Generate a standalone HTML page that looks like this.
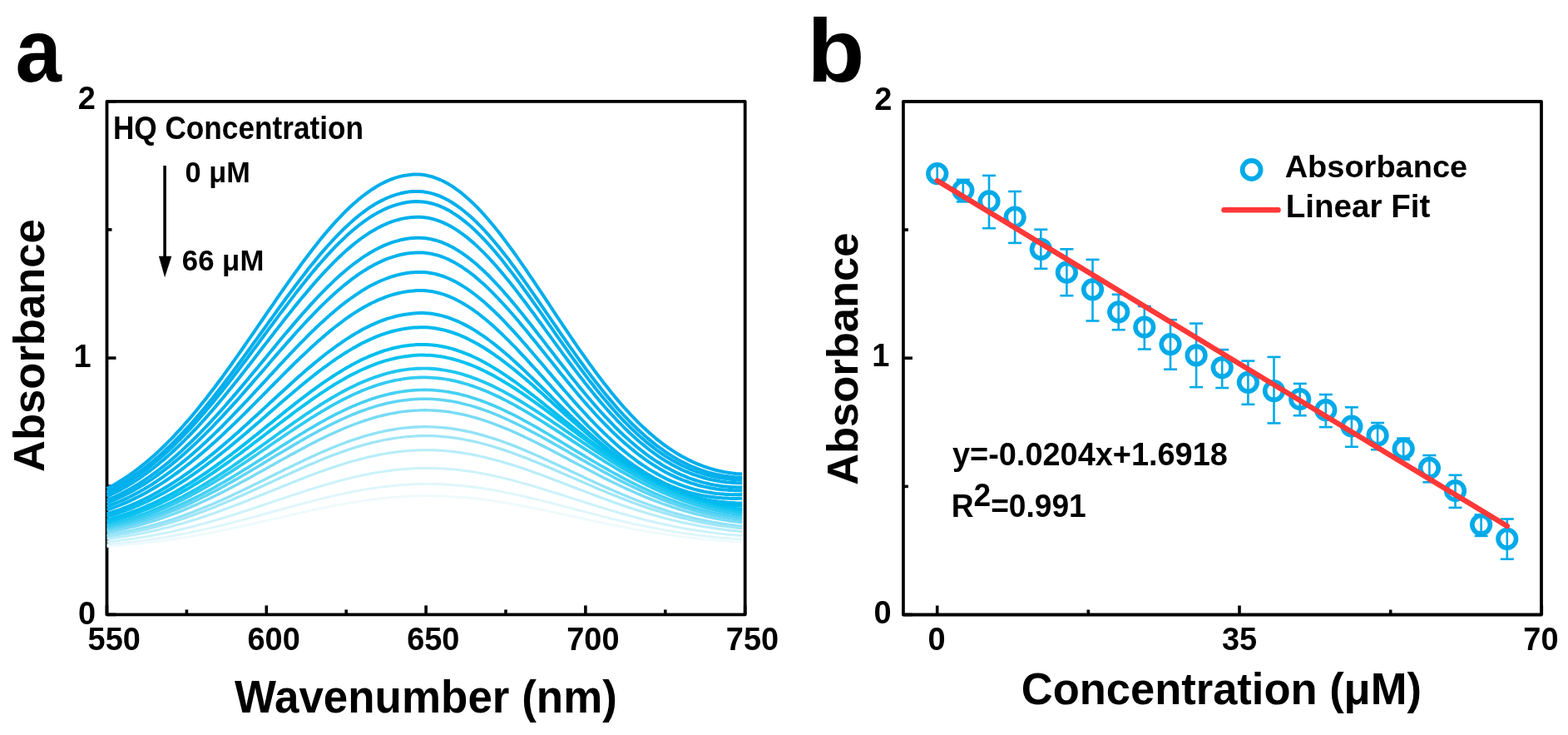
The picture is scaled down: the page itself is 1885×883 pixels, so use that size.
<!DOCTYPE html>
<html><head><meta charset="utf-8"><title>Figure</title>
<style>html,body{margin:0;padding:0;background:#fff;width:1885px;height:883px;overflow:hidden}
svg{display:block} text{font-family:'Liberation Sans',Arial,Helvetica,sans-serif;font-weight:bold;fill:#000}</style></head>
<body>
<svg width="1885" height="883" viewBox="0 0 1885 883">
<rect width="1885" height="883" fill="#fff"/>
<!-- Panel a -->
<text transform="translate(18.58,97.7) scale(0.9189,1)" font-size="108.43">a</text><text transform="translate(93.75,131.0) scale(0.965,1)" font-size="39.3">2</text><text transform="translate(88.54,441.1) scale(0.965,1)" font-size="39.3">1</text><text transform="translate(94.05,749.65) scale(0.965,1)" font-size="39.3">0</text><text transform="translate(105.61,780.95) scale(0.965,1)" font-size="39.3">550</text><text transform="translate(297.53,780.95) scale(0.965,1)" font-size="39.3">600</text><text transform="translate(489.18,780.95) scale(0.965,1)" font-size="39.3">650</text><text transform="translate(681.21,780.95) scale(0.965,1)" font-size="39.3">700</text><text transform="translate(872.81,780.95) scale(0.965,1)" font-size="39.3">750</text><text transform="translate(281.93,856.3) scale(0.95,1)" font-size="55.74">Wavenumber (nm)</text><text transform="translate(53.11,567.04) rotate(-90) scale(1.0228,1)" font-size="51.41">Absorbance</text>
<g stroke="#000" stroke-width="3.8" fill="none" stroke-linejoin="round">
<rect x="128.5" y="121.8" width="767.2" height="616.6"/>
</g>
<g stroke="#000" stroke-width="3.6" stroke-linecap="butt">
<line x1="128.5" y1="738.4" x2="128.5" y2="727.4"/>
<line x1="320.3" y1="738.4" x2="320.3" y2="727.4"/>
<line x1="512.1" y1="738.4" x2="512.1" y2="727.4"/>
<line x1="703.9" y1="738.4" x2="703.9" y2="727.4"/>
<line x1="895.7" y1="738.4" x2="895.7" y2="727.4"/>
<line x1="224.4" y1="738.4" x2="224.4" y2="732.4"/>
<line x1="416.2" y1="738.4" x2="416.2" y2="732.4"/>
<line x1="608.0" y1="738.4" x2="608.0" y2="732.4"/>
<line x1="799.8" y1="738.4" x2="799.8" y2="732.4"/>
<line x1="128.5" y1="738.4" x2="139.5" y2="738.4"/>
<line x1="128.5" y1="430.1" x2="139.5" y2="430.1"/>
<line x1="128.5" y1="121.8" x2="139.5" y2="121.8"/>
<line x1="128.5" y1="584.2" x2="134.5" y2="584.2"/>
<line x1="128.5" y1="275.9" x2="134.5" y2="275.9"/>
</g>
<g>
<polyline points="128.5,587.0 132.3,585.0 136.2,582.9 140.0,580.7 143.9,578.3 147.7,575.9 151.5,573.4 155.4,570.8 159.2,568.1 163.0,565.3 166.9,562.4 170.7,559.4 174.6,556.3 178.4,553.1 182.2,549.8 186.1,546.4 189.9,542.9 193.7,539.3 197.6,535.5 201.4,531.7 205.3,527.8 209.1,523.8 212.9,519.7 216.8,515.6 220.6,511.3 224.4,506.9 228.3,502.5 232.1,497.9 236.0,493.3 239.8,488.6 243.6,483.8 247.5,479.0 251.3,474.0 255.2,469.0 259.0,464.0 262.8,458.8 266.7,453.7 270.5,448.4 274.3,443.1 278.2,437.8 282.0,432.4 285.9,426.9 289.7,421.5 293.5,416.0 297.4,410.4 301.2,404.9 305.0,399.3 308.9,393.7 312.7,388.1 316.6,382.5 320.4,376.9 324.2,371.3 328.1,365.8 331.9,360.2 335.7,354.7 339.6,349.1 343.4,343.7 347.3,338.2 351.1,332.8 354.9,327.5 358.8,322.2 362.6,316.9 366.5,311.8 370.3,306.7 374.1,301.7 378.0,296.7 381.8,291.9 385.6,287.1 389.5,282.4 393.3,277.9 397.2,273.4 401.0,269.1 404.8,264.9 408.7,260.8 412.5,256.8 416.3,253.0 420.2,249.3 424.0,245.8 427.9,242.4 431.7,239.1 435.5,236.0 439.4,233.1 443.2,230.3 447.0,227.7 450.9,225.2 454.7,222.9 458.6,220.8 462.4,218.9 466.2,217.1 470.1,215.5 473.9,214.1 477.8,212.9 481.6,211.9 485.4,211.0 489.3,210.4 493.1,209.9 496.9,209.6 500.8,209.5 504.6,209.6 508.5,210.0 512.3,210.6 516.1,211.5 520.0,212.5 523.8,213.8 527.6,215.3 531.5,217.0 535.3,218.9 539.2,221.1 543.0,223.4 546.8,226.0 550.7,228.8 554.5,231.7 558.3,234.9 562.2,238.2 566.0,241.7 569.9,245.4 573.7,249.2 577.5,253.2 581.4,257.4 585.2,261.7 589.1,266.2 592.9,270.8 596.7,275.5 600.6,280.3 604.4,285.3 608.2,290.4 612.1,295.6 615.9,300.8 619.8,306.2 623.6,311.6 627.4,317.1 631.3,322.6 635.1,328.3 638.9,333.9 642.8,339.6 646.6,345.4 650.5,351.1 654.3,356.9 658.1,362.7 662.0,368.5 665.8,374.3 669.6,380.1 673.5,385.9 677.3,391.6 681.2,397.3 685.0,403.0 688.8,408.7 692.7,414.3 696.5,419.8 700.4,425.3 704.2,430.7 708.0,436.1 711.9,441.4 715.7,446.6 719.5,451.7 723.4,456.8 727.2,461.7 731.1,466.6 734.9,471.4 738.7,476.1 742.6,480.6 746.4,485.1 750.2,489.5 754.1,493.7 757.9,497.8 761.8,501.9 765.6,505.8 769.4,509.6 773.3,513.2 777.1,516.8 780.9,520.2 784.8,523.6 788.6,526.8 792.5,529.8 796.3,532.8 800.1,535.6 804.0,538.3 807.8,540.9 811.7,543.4 815.5,545.7 819.3,548.0 823.2,550.1 827.0,552.1 830.8,553.9 834.7,555.7 838.5,557.4 842.4,558.9 846.2,560.3 850.0,561.6 853.9,562.9 857.7,564.0 861.5,565.0 865.4,565.9 869.2,566.7 873.1,567.4 876.9,568.0 880.7,568.5 884.6,568.9 888.4,569.2 892.2,569.5" fill="none" stroke="rgb(0, 173, 235)" stroke-width="4.00" stroke-linejoin="round"/>
<polyline points="128.5,590.7 132.3,588.8 136.2,586.8 140.0,584.7 143.9,582.6 147.7,580.3 151.5,577.9 155.4,575.4 159.2,572.9 163.0,570.2 166.9,567.5 170.7,564.6 174.6,561.7 178.4,558.6 182.2,555.5 186.1,552.2 189.9,548.9 193.7,545.5 197.6,541.9 201.4,538.3 205.3,534.6 209.1,530.8 212.9,526.9 216.8,522.9 220.6,518.9 224.4,514.7 228.3,510.5 232.1,506.2 236.0,501.8 239.8,497.3 243.6,492.7 247.5,488.1 251.3,483.4 255.2,478.7 259.0,473.8 262.8,469.0 266.7,464.0 270.5,459.0 274.3,454.0 278.2,448.9 282.0,443.7 285.9,438.5 289.7,433.3 293.5,428.1 297.4,422.8 301.2,417.5 305.0,412.2 308.9,406.9 312.7,401.5 316.6,396.2 320.4,390.8 324.2,385.5 328.1,380.1 331.9,374.8 335.7,369.5 339.6,364.3 343.4,359.0 347.3,353.8 351.1,348.7 354.9,343.5 358.8,338.5 362.6,333.5 366.5,328.5 370.3,323.6 374.1,318.8 378.0,314.1 381.8,309.4 385.6,304.9 389.5,300.4 393.3,296.0 397.2,291.8 401.0,287.6 404.8,283.6 408.7,279.6 412.5,275.8 416.3,272.2 420.2,268.6 424.0,265.2 427.9,261.9 431.7,258.8 435.5,255.8 439.4,252.9 443.2,250.2 447.0,247.7 450.9,245.3 454.7,243.1 458.6,241.1 462.4,239.2 466.2,237.5 470.1,235.9 473.9,234.6 477.8,233.4 481.6,232.3 485.4,231.5 489.3,230.8 493.1,230.3 496.9,230.0 500.8,229.9 504.6,230.0 508.5,230.3 512.3,230.9 516.1,231.6 520.0,232.6 523.8,233.8 527.6,235.2 531.5,236.9 535.3,238.7 539.2,240.8 543.0,243.0 546.8,245.5 550.7,248.1 554.5,251.0 558.3,254.0 562.2,257.2 566.0,260.6 569.9,264.1 573.7,267.8 577.5,271.7 581.4,275.7 585.2,279.9 589.1,284.2 592.9,288.7 596.7,293.2 600.6,297.9 604.4,302.7 608.2,307.6 612.1,312.6 615.9,317.7 619.8,322.8 623.6,328.1 627.4,333.4 631.3,338.8 635.1,344.2 638.9,349.7 642.8,355.2 646.6,360.7 650.5,366.3 654.3,371.9 658.1,377.5 662.0,383.1 665.8,388.6 669.6,394.2 673.5,399.8 677.3,405.3 681.2,410.8 685.0,416.3 688.8,421.7 692.7,427.1 696.5,432.5 700.4,437.8 704.2,443.0 708.0,448.1 711.9,453.2 715.7,458.2 719.5,463.1 723.4,468.0 727.2,472.7 731.1,477.4 734.9,481.9 738.7,486.4 742.6,490.8 746.4,495.0 750.2,499.2 754.1,503.2 757.9,507.2 761.8,511.0 765.6,514.7 769.4,518.3 773.3,521.8 777.1,525.2 780.9,528.4 784.8,531.6 788.6,534.6 792.5,537.5 796.3,540.2 800.1,542.9 804.0,545.5 807.8,547.9 811.7,550.2 815.5,552.4 819.3,554.5 823.2,556.4 827.0,558.3 830.8,560.0 834.7,561.6 838.5,563.1 842.4,564.6 846.2,565.9 850.0,567.1 853.9,568.1 857.7,569.1 861.5,570.0 865.4,570.8 869.2,571.5 873.1,572.1 876.9,572.6 880.7,573.0 884.6,573.4 888.4,573.6 892.2,573.8" fill="none" stroke="rgb(0, 174, 235)" stroke-width="4.00" stroke-linejoin="round"/>
<polyline points="128.5,593.0 132.3,591.1 136.2,589.2 140.0,587.2 143.9,585.1 147.7,582.9 151.5,580.6 155.4,578.2 159.2,575.7 163.0,573.1 166.9,570.5 170.7,567.7 174.6,564.9 178.4,561.9 182.2,558.9 186.1,555.7 189.9,552.5 193.7,549.2 197.6,545.8 201.4,542.3 205.3,538.7 209.1,535.0 212.9,531.2 216.8,527.3 220.6,523.4 224.4,519.4 228.3,515.3 232.1,511.1 236.0,506.8 239.8,502.5 243.6,498.1 247.5,493.6 251.3,489.0 255.2,484.4 259.0,479.7 262.8,475.0 266.7,470.2 270.5,465.3 274.3,460.4 278.2,455.5 282.0,450.5 285.9,445.5 289.7,440.4 293.5,435.3 297.4,430.2 301.2,425.0 305.0,419.9 308.9,414.7 312.7,409.5 316.6,404.3 320.4,399.1 324.2,393.9 328.1,388.7 331.9,383.5 335.7,378.4 339.6,373.3 343.4,368.2 347.3,363.1 351.1,358.1 354.9,353.1 358.8,348.2 362.6,343.3 366.5,338.5 370.3,333.7 374.1,329.1 378.0,324.4 381.8,319.9 385.6,315.5 389.5,311.1 393.3,306.9 397.2,302.7 401.0,298.7 404.8,294.7 408.7,290.9 412.5,287.2 416.3,283.6 420.2,280.1 424.0,276.8 427.9,273.6 431.7,270.5 435.5,267.6 439.4,264.8 443.2,262.2 447.0,259.7 450.9,257.4 454.7,255.2 458.6,253.2 462.4,251.3 466.2,249.7 470.1,248.1 473.9,246.8 477.8,245.6 481.6,244.6 485.4,243.7 489.3,243.1 493.1,242.6 496.9,242.2 500.8,242.1 504.6,242.2 508.5,242.5 512.3,243.0 516.1,243.7 520.0,244.7 523.8,245.8 527.6,247.2 531.5,248.8 535.3,250.6 539.2,252.6 543.0,254.8 546.8,257.3 550.7,259.9 554.5,262.7 558.3,265.6 562.2,268.8 566.0,272.1 569.9,275.6 573.7,279.3 577.5,283.1 581.4,287.0 585.2,291.2 589.1,295.4 592.9,299.8 596.7,304.3 600.6,308.9 604.4,313.6 608.2,318.4 612.1,323.4 615.9,328.4 619.8,333.5 623.6,338.6 627.4,343.9 631.3,349.2 635.1,354.5 638.9,359.9 642.8,365.3 646.6,370.7 650.5,376.2 654.3,381.7 658.1,387.2 662.0,392.7 665.8,398.2 669.6,403.6 673.5,409.1 677.3,414.5 681.2,419.9 685.0,425.3 688.8,430.6 692.7,435.9 696.5,441.1 700.4,446.3 704.2,451.4 708.0,456.4 711.9,461.3 715.7,466.2 719.5,471.0 723.4,475.7 727.2,480.3 731.1,484.9 734.9,489.3 738.7,493.6 742.6,497.9 746.4,502.0 750.2,506.0 754.1,509.9 757.9,513.7 761.8,517.4 765.6,521.0 769.4,524.5 773.3,527.8 777.1,531.1 780.9,534.2 784.8,537.2 788.6,540.1 792.5,542.8 796.3,545.5 800.1,548.0 804.0,550.4 807.8,552.7 811.7,554.9 815.5,557.0 819.3,559.0 823.2,560.8 827.0,562.5 830.8,564.2 834.7,565.7 838.5,567.1 842.4,568.4 846.2,569.6 850.0,570.7 853.9,571.6 857.7,572.5 861.5,573.3 865.4,574.0 869.2,574.6 873.1,575.1 876.9,575.5 880.7,575.9 884.6,576.1 888.4,576.3 892.2,576.4" fill="none" stroke="rgb(0, 175, 236)" stroke-width="4.00" stroke-linejoin="round"/>
<polyline points="128.5,596.4 132.3,594.7 136.2,592.8 140.0,590.9 143.9,588.9 147.7,586.8 151.5,584.7 155.4,582.4 159.2,580.0 163.0,577.6 166.9,575.1 170.7,572.4 174.6,569.7 178.4,566.9 182.2,564.0 186.1,561.0 189.9,558.0 193.7,554.8 197.6,551.6 201.4,548.2 205.3,544.8 209.1,541.3 212.9,537.7 216.8,534.0 220.6,530.3 224.4,526.4 228.3,522.5 232.1,518.5 236.0,514.5 239.8,510.3 243.6,506.1 247.5,501.9 251.3,497.5 255.2,493.1 259.0,488.6 262.8,484.1 266.7,479.5 270.5,474.9 274.3,470.2 278.2,465.5 282.0,460.7 285.9,455.9 289.7,451.1 293.5,446.2 297.4,441.3 301.2,436.4 305.0,431.5 308.9,426.5 312.7,421.6 316.6,416.6 320.4,411.6 324.2,406.7 328.1,401.7 331.9,396.8 335.7,391.9 339.6,387.0 343.4,382.1 347.3,377.2 351.1,372.4 354.9,367.6 358.8,362.9 362.6,358.3 366.5,353.6 370.3,349.1 374.1,344.6 378.0,340.2 381.8,335.8 385.6,331.6 389.5,327.4 393.3,323.3 397.2,319.3 401.0,315.4 404.8,311.6 408.7,308.0 412.5,304.4 416.3,300.9 420.2,297.6 424.0,294.4 427.9,291.3 431.7,288.4 435.5,285.5 439.4,282.9 443.2,280.3 447.0,277.9 450.9,275.7 454.7,273.6 458.6,271.6 462.4,269.8 466.2,268.2 470.1,266.7 473.9,265.4 477.8,264.2 481.6,263.2 485.4,262.4 489.3,261.7 493.1,261.2 496.9,260.9 500.8,260.7 504.6,260.7 508.5,261.0 512.3,261.5 516.1,262.1 520.0,263.0 523.8,264.1 527.6,265.4 531.5,266.9 535.3,268.6 539.2,270.5 543.0,272.6 546.8,274.9 550.7,277.4 554.5,280.1 558.3,282.9 562.2,285.9 566.0,289.1 569.9,292.4 573.7,295.9 577.5,299.6 581.4,303.4 585.2,307.3 589.1,311.4 592.9,315.6 596.7,319.9 600.6,324.4 604.4,328.9 608.2,333.5 612.1,338.3 615.9,343.1 619.8,348.0 623.6,352.9 627.4,358.0 631.3,363.0 635.1,368.2 638.9,373.3 642.8,378.5 646.6,383.8 650.5,389.0 654.3,394.3 658.1,399.6 662.0,404.9 665.8,410.1 669.6,415.4 673.5,420.6 677.3,425.9 681.2,431.0 685.0,436.2 688.8,441.3 692.7,446.4 696.5,451.4 700.4,456.3 704.2,461.2 708.0,466.0 711.9,470.8 715.7,475.5 719.5,480.1 723.4,484.6 727.2,489.0 731.1,493.3 734.9,497.6 738.7,501.7 742.6,505.8 746.4,509.7 750.2,513.6 754.1,517.3 757.9,521.0 761.8,524.5 765.6,527.9 769.4,531.2 773.3,534.4 777.1,537.5 780.9,540.5 784.8,543.4 788.6,546.1 792.5,548.8 796.3,551.3 800.1,553.7 804.0,556.0 807.8,558.2 811.7,560.2 815.5,562.2 819.3,564.1 823.2,565.8 827.0,567.4 830.8,569.0 834.7,570.4 838.5,571.7 842.4,572.9 846.2,574.0 850.0,575.1 853.9,576.0 857.7,576.8 861.5,577.5 865.4,578.2 869.2,578.7 873.1,579.2 876.9,579.6 880.7,579.9 884.6,580.1 888.4,580.2 892.2,580.2" fill="none" stroke="rgb(0, 176, 236)" stroke-width="4.00" stroke-linejoin="round"/>
<polyline points="128.5,601.0 132.3,599.4 136.2,597.7 140.0,595.9 143.9,594.1 147.7,592.1 151.5,590.1 155.4,588.0 159.2,585.8 163.0,583.5 166.9,581.2 170.7,578.7 174.6,576.2 178.4,573.6 182.2,570.9 186.1,568.1 189.9,565.3 193.7,562.3 197.6,559.3 201.4,556.2 205.3,553.0 209.1,549.7 212.9,546.4 216.8,542.9 220.6,539.4 224.4,535.8 228.3,532.2 232.1,528.5 236.0,524.7 239.8,520.8 243.6,516.9 247.5,512.9 251.3,508.8 255.2,504.7 259.0,500.5 262.8,496.3 266.7,492.0 270.5,487.7 274.3,483.3 278.2,478.9 282.0,474.4 285.9,469.9 289.7,465.4 293.5,460.8 297.4,456.2 301.2,451.6 305.0,447.0 308.9,442.4 312.7,437.7 316.6,433.1 320.4,428.4 324.2,423.7 328.1,419.1 331.9,414.5 335.7,409.8 339.6,405.2 343.4,400.6 347.3,396.1 351.1,391.6 354.9,387.1 358.8,382.6 362.6,378.2 366.5,373.9 370.3,369.6 374.1,365.4 378.0,361.2 381.8,357.1 385.6,353.1 389.5,349.2 393.3,345.3 397.2,341.6 401.0,337.9 404.8,334.3 408.7,330.8 412.5,327.5 416.3,324.2 420.2,321.0 424.0,318.0 427.9,315.1 431.7,312.3 435.5,309.6 439.4,307.1 443.2,304.7 447.0,302.4 450.9,300.2 454.7,298.2 458.6,296.4 462.4,294.6 466.2,293.1 470.1,291.7 473.9,290.4 477.8,289.3 481.6,288.3 485.4,287.5 489.3,286.8 493.1,286.3 496.9,285.9 500.8,285.7 504.6,285.7 508.5,285.9 512.3,286.3 516.1,286.9 520.0,287.7 523.8,288.7 527.6,289.8 531.5,291.2 535.3,292.8 539.2,294.6 543.0,296.5 546.8,298.6 550.7,301.0 554.5,303.4 558.3,306.1 562.2,308.9 566.0,311.9 569.9,315.0 573.7,318.3 577.5,321.7 581.4,325.3 585.2,329.0 589.1,332.8 592.9,336.8 596.7,340.8 600.6,345.0 604.4,349.3 608.2,353.6 612.1,358.1 615.9,362.6 619.8,367.2 623.6,371.9 627.4,376.6 631.3,381.4 635.1,386.2 638.9,391.1 642.8,396.0 646.6,401.0 650.5,405.9 654.3,410.9 658.1,415.9 662.0,420.8 665.8,425.8 669.6,430.8 673.5,435.7 677.3,440.6 681.2,445.5 685.0,450.4 688.8,455.2 692.7,460.0 696.5,464.7 700.4,469.4 704.2,474.0 708.0,478.5 711.9,483.0 715.7,487.4 719.5,491.7 723.4,496.0 727.2,500.2 731.1,504.2 734.9,508.2 738.7,512.2 742.6,516.0 746.4,519.7 750.2,523.3 754.1,526.8 757.9,530.2 761.8,533.6 765.6,536.8 769.4,539.9 773.3,542.9 777.1,545.8 780.9,548.6 784.8,551.3 788.6,553.8 792.5,556.3 796.3,558.7 800.1,560.9 804.0,563.1 807.8,565.1 811.7,567.1 815.5,568.9 819.3,570.6 823.2,572.2 827.0,573.8 830.8,575.2 834.7,576.5 838.5,577.7 842.4,578.8 846.2,579.9 850.0,580.8 853.9,581.7 857.7,582.4 861.5,583.1 865.4,583.7 869.2,584.2 873.1,584.6 876.9,584.9 880.7,585.2 884.6,585.3 888.4,585.4 892.2,585.4" fill="none" stroke="rgb(0, 177, 236)" stroke-width="4.00" stroke-linejoin="round"/>
<polyline points="128.5,604.3 132.3,602.8 136.2,601.2 140.0,599.5 143.9,597.7 147.7,595.9 151.5,594.0 155.4,592.0 159.2,589.9 163.0,587.7 166.9,585.5 170.7,583.2 174.6,580.8 178.4,578.3 182.2,575.8 186.1,573.1 189.9,570.4 193.7,567.6 197.6,564.7 201.4,561.8 205.3,558.8 209.1,555.6 212.9,552.5 216.8,549.2 220.6,545.9 224.4,542.5 228.3,539.0 232.1,535.5 236.0,531.9 239.8,528.2 243.6,524.4 247.5,520.6 251.3,516.8 255.2,512.9 259.0,508.9 262.8,504.9 266.7,500.8 270.5,496.7 274.3,492.5 278.2,488.3 282.0,484.1 285.9,479.8 289.7,475.5 293.5,471.1 297.4,466.7 301.2,462.4 305.0,457.9 308.9,453.5 312.7,449.1 316.6,444.6 320.4,440.2 324.2,435.8 328.1,431.3 331.9,426.9 335.7,422.5 339.6,418.1 343.4,413.7 347.3,409.4 351.1,405.1 354.9,400.8 358.8,396.5 362.6,392.3 366.5,388.2 370.3,384.1 374.1,380.1 378.0,376.1 381.8,372.2 385.6,368.3 389.5,364.6 393.3,360.9 397.2,357.3 401.0,353.7 404.8,350.3 408.7,347.0 412.5,343.8 416.3,340.6 420.2,337.6 424.0,334.7 427.9,331.9 431.7,329.2 435.5,326.6 439.4,324.2 443.2,321.8 447.0,319.7 450.9,317.6 454.7,315.7 458.6,313.9 462.4,312.2 466.2,310.7 470.1,309.3 473.9,308.1 477.8,307.0 481.6,306.0 485.4,305.2 489.3,304.5 493.1,304.0 496.9,303.7 500.8,303.4 504.6,303.4 508.5,303.6 512.3,303.9 516.1,304.4 520.0,305.2 523.8,306.1 527.6,307.2 531.5,308.5 535.3,310.0 539.2,311.7 543.0,313.6 546.8,315.6 550.7,317.9 554.5,320.2 558.3,322.8 562.2,325.5 566.0,328.4 569.9,331.4 573.7,334.6 577.5,337.9 581.4,341.3 585.2,344.9 589.1,348.6 592.9,352.4 596.7,356.3 600.6,360.3 604.4,364.5 608.2,368.7 612.1,373.0 615.9,377.3 619.8,381.8 623.6,386.3 627.4,390.9 631.3,395.5 635.1,400.2 638.9,404.9 642.8,409.6 646.6,414.4 650.5,419.2 654.3,423.9 658.1,428.7 662.0,433.5 665.8,438.3 669.6,443.1 673.5,447.9 677.3,452.6 681.2,457.3 685.0,462.0 688.8,466.6 692.7,471.2 696.5,475.7 700.4,480.2 704.2,484.6 708.0,489.0 711.9,493.2 715.7,497.5 719.5,501.6 723.4,505.7 727.2,509.6 731.1,513.5 734.9,517.4 738.7,521.1 742.6,524.7 746.4,528.2 750.2,531.7 754.1,535.0 757.9,538.3 761.8,541.4 765.6,544.5 769.4,547.4 773.3,550.2 777.1,553.0 780.9,555.6 784.8,558.1 788.6,560.5 792.5,562.9 796.3,565.1 800.1,567.2 804.0,569.2 807.8,571.1 811.7,572.9 815.5,574.6 819.3,576.2 823.2,577.6 827.0,579.0 830.8,580.3 834.7,581.5 838.5,582.7 842.4,583.7 846.2,584.6 850.0,585.4 853.9,586.2 857.7,586.8 861.5,587.4 865.4,587.9 869.2,588.3 873.1,588.6 876.9,588.9 880.7,589.1 884.6,589.2 888.4,589.2 892.2,589.2" fill="none" stroke="rgb(0, 178, 237)" stroke-width="4.00" stroke-linejoin="round"/>
<polyline points="128.5,608.6 132.3,607.2 136.2,605.7 140.0,604.2 143.9,602.5 147.7,600.8 151.5,599.1 155.4,597.2 159.2,595.3 163.0,593.3 166.9,591.2 170.7,589.1 174.6,586.8 178.4,584.5 182.2,582.2 186.1,579.7 189.9,577.2 193.7,574.6 197.6,571.9 201.4,569.2 205.3,566.4 209.1,563.5 212.9,560.5 216.8,557.5 220.6,554.4 224.4,551.2 228.3,548.0 232.1,544.7 236.0,541.3 239.8,537.9 243.6,534.4 247.5,530.9 251.3,527.3 255.2,523.6 259.0,519.9 262.8,516.2 266.7,512.4 270.5,508.5 274.3,504.6 278.2,500.7 282.0,496.7 285.9,492.7 289.7,488.7 293.5,484.7 297.4,480.6 301.2,476.5 305.0,472.4 308.9,468.2 312.7,464.1 316.6,459.9 320.4,455.8 324.2,451.6 328.1,447.5 331.9,443.3 335.7,439.2 339.6,435.1 343.4,431.0 347.3,426.9 351.1,422.9 354.9,418.9 358.8,414.9 362.6,410.9 366.5,407.1 370.3,403.2 374.1,399.4 378.0,395.7 381.8,392.0 385.6,388.4 389.5,384.9 393.3,381.4 397.2,378.0 401.0,374.7 404.8,371.5 408.7,368.4 412.5,365.3 416.3,362.4 420.2,359.5 424.0,356.8 427.9,354.1 431.7,351.6 435.5,349.1 439.4,346.8 443.2,344.6 447.0,342.5 450.9,340.6 454.7,338.8 458.6,337.0 462.4,335.5 466.2,334.0 470.1,332.7 473.9,331.5 477.8,330.4 481.6,329.5 485.4,328.7 489.3,328.1 493.1,327.6 496.9,327.2 500.8,327.0 504.6,326.9 508.5,327.0 512.3,327.3 516.1,327.8 520.0,328.4 523.8,329.3 527.6,330.3 531.5,331.5 535.3,332.9 539.2,334.5 543.0,336.2 546.8,338.1 550.7,340.2 554.5,342.5 558.3,344.9 562.2,347.4 566.0,350.1 569.9,353.0 573.7,356.0 577.5,359.1 581.4,362.3 585.2,365.7 589.1,369.2 592.9,372.8 596.7,376.5 600.6,380.3 604.4,384.2 608.2,388.2 612.1,392.3 615.9,396.4 619.8,400.6 623.6,404.9 627.4,409.2 631.3,413.6 635.1,418.0 638.9,422.5 642.8,427.0 646.6,431.5 650.5,436.0 654.3,440.5 658.1,445.1 662.0,449.6 665.8,454.1 669.6,458.6 673.5,463.1 677.3,467.6 681.2,472.0 685.0,476.4 688.8,480.8 692.7,485.1 696.5,489.4 700.4,493.6 704.2,497.7 708.0,501.8 711.9,505.9 715.7,509.8 719.5,513.7 723.4,517.5 727.2,521.3 731.1,524.9 734.9,528.5 738.7,532.0 742.6,535.4 746.4,538.7 750.2,541.9 754.1,545.0 757.9,548.0 761.8,550.9 765.6,553.8 769.4,556.5 773.3,559.1 777.1,561.7 780.9,564.1 784.8,566.4 788.6,568.6 792.5,570.8 796.3,572.8 800.1,574.7 804.0,576.6 807.8,578.3 811.7,579.9 815.5,581.5 819.3,582.9 823.2,584.3 827.0,585.5 830.8,586.7 834.7,587.8 838.5,588.8 842.4,589.7 846.2,590.5 850.0,591.2 853.9,591.8 857.7,592.4 861.5,592.9 865.4,593.3 869.2,593.6 873.1,593.9 876.9,594.1 880.7,594.2 884.6,594.2 888.4,594.2 892.2,594.1" fill="none" stroke="rgb(0, 179, 237)" stroke-width="4.00" stroke-linejoin="round"/>
<polyline points="128.5,612.6 132.3,611.3 136.2,610.0 140.0,608.5 143.9,607.0 147.7,605.4 151.5,603.8 155.4,602.1 159.2,600.3 163.0,598.4 166.9,596.5 170.7,594.5 174.6,592.4 178.4,590.3 182.2,588.1 186.1,585.8 189.9,583.5 193.7,581.1 197.6,578.6 201.4,576.0 205.3,573.4 209.1,570.7 212.9,568.0 216.8,565.2 220.6,562.3 224.4,559.3 228.3,556.3 232.1,553.2 236.0,550.1 239.8,546.9 243.6,543.7 247.5,540.4 251.3,537.0 255.2,533.6 259.0,530.2 262.8,526.7 266.7,523.1 270.5,519.5 274.3,515.9 278.2,512.3 282.0,508.6 285.9,504.8 289.7,501.1 293.5,497.3 297.4,493.5 301.2,489.6 305.0,485.8 308.9,481.9 312.7,478.1 316.6,474.2 320.4,470.3 324.2,466.4 328.1,462.5 331.9,458.6 335.7,454.8 339.6,450.9 343.4,447.1 347.3,443.3 351.1,439.5 354.9,435.7 358.8,432.0 362.6,428.3 366.5,424.7 370.3,421.1 374.1,417.5 378.0,414.0 381.8,410.6 385.6,407.2 389.5,403.9 393.3,400.6 397.2,397.4 401.0,394.3 404.8,391.3 408.7,388.4 412.5,385.5 416.3,382.7 420.2,380.0 424.0,377.4 427.9,374.9 431.7,372.5 435.5,370.3 439.4,368.1 443.2,366.0 447.0,364.0 450.9,362.2 454.7,360.4 458.6,358.8 462.4,357.3 466.2,355.9 470.1,354.7 473.9,353.5 477.8,352.5 481.6,351.6 485.4,350.9 489.3,350.2 493.1,349.7 496.9,349.4 500.8,349.1 504.6,349.0 508.5,349.1 512.3,349.3 516.1,349.7 520.0,350.3 523.8,351.1 527.6,352.0 531.5,353.1 535.3,354.4 539.2,355.8 543.0,357.5 546.8,359.2 550.7,361.2 554.5,363.2 558.3,365.5 562.2,367.9 566.0,370.4 569.9,373.0 573.7,375.8 577.5,378.8 581.4,381.8 585.2,385.0 589.1,388.2 592.9,391.6 596.7,395.1 600.6,398.7 604.4,402.3 608.2,406.1 612.1,409.9 615.9,413.8 619.8,417.7 623.6,421.8 627.4,425.8 631.3,429.9 635.1,434.1 638.9,438.3 642.8,442.5 646.6,446.7 650.5,451.0 654.3,455.2 658.1,459.5 662.0,463.7 665.8,468.0 669.6,472.2 673.5,476.5 677.3,480.7 681.2,484.8 685.0,489.0 688.8,493.1 692.7,497.1 696.5,501.1 700.4,505.1 704.2,509.0 708.0,512.8 711.9,516.6 715.7,520.3 719.5,524.0 723.4,527.6 727.2,531.1 731.1,534.5 734.9,537.8 738.7,541.1 742.6,544.3 746.4,547.4 750.2,550.4 754.1,553.3 757.9,556.1 761.8,558.9 765.6,561.5 769.4,564.0 773.3,566.5 777.1,568.9 780.9,571.1 784.8,573.3 788.6,575.4 792.5,577.4 796.3,579.3 800.1,581.1 804.0,582.8 807.8,584.4 811.7,585.9 815.5,587.3 819.3,588.7 823.2,589.9 827.0,591.1 830.8,592.1 834.7,593.1 838.5,594.0 842.4,594.9 846.2,595.6 850.0,596.3 853.9,596.8 857.7,597.3 861.5,597.8 865.4,598.1 869.2,598.4 873.1,598.6 876.9,598.8 880.7,598.9 884.6,598.9 888.4,598.8 892.2,598.7" fill="none" stroke="rgb(0, 180, 237)" stroke-width="4.00" stroke-linejoin="round"/>
<polyline points="128.5,617.3 132.3,616.2 136.2,614.9 140.0,613.6 143.9,612.3 147.7,610.8 151.5,609.4 155.4,607.8 159.2,606.2 163.0,604.5 166.9,602.8 170.7,601.0 174.6,599.1 178.4,597.2 182.2,595.2 186.1,593.1 189.9,591.0 193.7,588.8 197.6,586.5 201.4,584.2 205.3,581.8 209.1,579.4 212.9,576.9 216.8,574.3 220.6,571.7 224.4,569.0 228.3,566.3 232.1,563.5 236.0,560.6 239.8,557.7 243.6,554.8 247.5,551.8 251.3,548.7 255.2,545.6 259.0,542.5 262.8,539.3 266.7,536.1 270.5,532.8 274.3,529.5 278.2,526.2 282.0,522.8 285.9,519.4 289.7,516.0 293.5,512.5 297.4,509.0 301.2,505.5 305.0,502.0 308.9,498.5 312.7,495.0 316.6,491.4 320.4,487.9 324.2,484.3 328.1,480.8 331.9,477.2 335.7,473.7 339.6,470.2 343.4,466.7 347.3,463.2 351.1,459.7 354.9,456.3 358.8,452.8 362.6,449.5 366.5,446.1 370.3,442.8 374.1,439.6 378.0,436.4 381.8,433.2 385.6,430.1 389.5,427.0 393.3,424.0 397.2,421.1 401.0,418.3 404.8,415.5 408.7,412.8 412.5,410.1 416.3,407.6 420.2,405.1 424.0,402.7 427.9,400.4 431.7,398.2 435.5,396.1 439.4,394.0 443.2,392.1 447.0,390.3 450.9,388.6 454.7,386.9 458.6,385.4 462.4,384.0 466.2,382.7 470.1,381.6 473.9,380.5 477.8,379.5 481.6,378.7 485.4,378.0 489.3,377.4 493.1,376.9 496.9,376.5 500.8,376.2 504.6,376.1 508.5,376.1 512.3,376.3 516.1,376.6 520.0,377.1 523.8,377.7 527.6,378.5 531.5,379.4 535.3,380.5 539.2,381.7 543.0,383.1 546.8,384.6 550.7,386.2 554.5,388.0 558.3,389.9 562.2,391.9 566.0,394.1 569.9,396.4 573.7,398.8 577.5,401.3 581.4,403.9 585.2,406.7 589.1,409.5 592.9,412.4 596.7,415.4 600.6,418.6 604.4,421.7 608.2,425.0 612.1,428.3 615.9,431.7 619.8,435.2 623.6,438.7 627.4,442.3 631.3,445.9 635.1,449.6 638.9,453.2 642.8,457.0 646.6,460.7 650.5,464.5 654.3,468.2 658.1,472.0 662.0,475.8 665.8,479.6 669.6,483.4 673.5,487.2 677.3,491.0 681.2,494.7 685.0,498.4 688.8,502.1 692.7,505.8 696.5,509.4 700.4,513.0 704.2,516.6 708.0,520.1 711.9,523.5 715.7,526.9 719.5,530.3 723.4,533.6 727.2,536.8 731.1,540.0 734.9,543.1 738.7,546.1 742.6,549.1 746.4,552.0 750.2,554.8 754.1,557.5 757.9,560.2 761.8,562.8 765.6,565.3 769.4,567.8 773.3,570.1 777.1,572.4 780.9,574.6 784.8,576.7 788.6,578.7 792.5,580.7 796.3,582.6 800.1,584.3 804.0,586.0 807.8,587.7 811.7,589.2 815.5,590.7 819.3,592.1 823.2,593.4 827.0,594.6 830.8,595.7 834.7,596.8 838.5,597.8 842.4,598.7 846.2,599.6 850.0,600.4 853.9,601.1 857.7,601.7 861.5,602.3 865.4,602.8 869.2,603.2 873.1,603.6 876.9,603.9 880.7,604.1 884.6,604.3 888.4,604.4 892.2,604.5" fill="none" stroke="rgb(0, 182, 238)" stroke-width="4.00" stroke-linejoin="round"/>
<polyline points="128.5,620.5 132.3,619.4 136.2,618.3 140.0,617.1 143.9,615.8 147.7,614.4 151.5,613.1 155.4,611.6 159.2,610.1 163.0,608.5 166.9,606.9 170.7,605.2 174.6,603.5 178.4,601.6 182.2,599.8 186.1,597.8 189.9,595.8 193.7,593.8 197.6,591.7 201.4,589.5 205.3,587.3 209.1,585.0 212.9,582.6 216.8,580.2 220.6,577.8 224.4,575.3 228.3,572.7 232.1,570.1 236.0,567.4 239.8,564.7 243.6,561.9 247.5,559.1 251.3,556.2 255.2,553.3 259.0,550.4 262.8,547.4 266.7,544.3 270.5,541.3 274.3,538.2 278.2,535.0 282.0,531.8 285.9,528.6 289.7,525.4 293.5,522.2 297.4,518.9 301.2,515.6 305.0,512.3 308.9,509.0 312.7,505.7 316.6,502.3 320.4,499.0 324.2,495.6 328.1,492.3 331.9,489.0 335.7,485.6 339.6,482.3 343.4,479.0 347.3,475.7 351.1,472.4 354.9,469.2 358.8,466.0 362.6,462.8 366.5,459.6 370.3,456.5 374.1,453.5 378.0,450.4 381.8,447.4 385.6,444.5 389.5,441.6 393.3,438.8 397.2,436.0 401.0,433.3 404.8,430.7 408.7,428.1 412.5,425.6 416.3,423.2 420.2,420.9 424.0,418.6 427.9,416.4 431.7,414.3 435.5,412.3 439.4,410.4 443.2,408.6 447.0,406.8 450.9,405.2 454.7,403.6 458.6,402.2 462.4,400.9 466.2,399.6 470.1,398.5 473.9,397.5 477.8,396.6 481.6,395.8 485.4,395.1 489.3,394.5 493.1,394.0 496.9,393.6 500.8,393.4 504.6,393.2 508.5,393.2 512.3,393.3 516.1,393.6 520.0,394.0 523.8,394.5 527.6,395.2 531.5,396.0 535.3,396.9 539.2,398.0 543.0,399.2 546.8,400.5 550.7,401.9 554.5,403.5 558.3,405.2 562.2,406.9 566.0,408.9 569.9,410.9 573.7,413.0 577.5,415.2 581.4,417.5 585.2,420.0 589.1,422.5 592.9,425.1 596.7,427.8 600.6,430.5 604.4,433.4 608.2,436.3 612.1,439.3 615.9,442.3 619.8,445.4 623.6,448.6 627.4,451.8 631.3,455.0 635.1,458.3 638.9,461.6 642.8,465.0 646.6,468.4 650.5,471.8 654.3,475.2 658.1,478.7 662.0,482.1 665.8,485.6 669.6,489.0 673.5,492.5 677.3,496.0 681.2,499.4 685.0,502.8 688.8,506.2 692.7,509.6 696.5,513.0 700.4,516.3 704.2,519.6 708.0,522.9 711.9,526.1 715.7,529.3 719.5,532.5 723.4,535.6 727.2,538.6 731.1,541.6 734.9,544.6 738.7,547.5 742.6,550.3 746.4,553.1 750.2,555.8 754.1,558.4 757.9,561.0 761.8,563.6 765.6,566.0 769.4,568.4 773.3,570.7 777.1,573.0 780.9,575.1 784.8,577.2 788.6,579.3 792.5,581.2 796.3,583.1 800.1,584.9 804.0,586.7 807.8,588.3 811.7,589.9 815.5,591.5 819.3,592.9 823.2,594.3 827.0,595.6 830.8,596.9 834.7,598.0 838.5,599.1 842.4,600.2 846.2,601.1 850.0,602.1 853.9,602.9 857.7,603.7 861.5,604.4 865.4,605.0 869.2,605.6 873.1,606.1 876.9,606.6 880.7,607.0 884.6,607.3 888.4,607.6 892.2,607.8" fill="none" stroke="rgb(0, 186, 238)" stroke-width="4.00" stroke-linejoin="round"/>
<polyline points="128.5,624.6 132.3,623.6 136.2,622.5 140.0,621.4 143.9,620.2 147.7,619.0 151.5,617.7 155.4,616.4 159.2,615.0 163.0,613.6 166.9,612.1 170.7,610.5 174.6,608.9 178.4,607.2 182.2,605.5 186.1,603.7 189.9,601.9 193.7,600.0 197.6,598.1 201.4,596.1 205.3,594.0 209.1,591.9 212.9,589.7 216.8,587.5 220.6,585.3 224.4,582.9 228.3,580.6 232.1,578.2 236.0,575.7 239.8,573.2 243.6,570.6 247.5,568.0 251.3,565.4 255.2,562.7 259.0,560.0 262.8,557.2 266.7,554.4 270.5,551.5 274.3,548.7 278.2,545.8 282.0,542.8 285.9,539.9 289.7,536.9 293.5,533.9 297.4,530.9 301.2,527.8 305.0,524.8 308.9,521.7 312.7,518.6 316.6,515.5 320.4,512.4 324.2,509.3 328.1,506.3 331.9,503.2 335.7,500.1 339.6,497.0 343.4,493.9 347.3,490.9 351.1,487.9 354.9,484.9 358.8,481.9 362.6,478.9 366.5,476.0 370.3,473.1 374.1,470.2 378.0,467.4 381.8,464.7 385.6,461.9 389.5,459.2 393.3,456.6 397.2,454.1 401.0,451.5 404.8,449.1 408.7,446.7 412.5,444.4 416.3,442.1 420.2,439.9 424.0,437.8 427.9,435.8 431.7,433.8 435.5,431.9 439.4,430.2 443.2,428.4 447.0,426.8 450.9,425.3 454.7,423.8 458.6,422.5 462.4,421.2 466.2,420.1 470.1,419.0 473.9,418.0 477.8,417.2 481.6,416.4 485.4,415.7 489.3,415.2 493.1,414.7 496.9,414.4 500.8,414.1 504.6,413.9 508.5,413.9 512.3,414.0 516.1,414.2 520.0,414.5 523.8,415.0 527.6,415.5 531.5,416.2 535.3,417.0 539.2,417.9 543.0,418.9 546.8,420.0 550.7,421.3 554.5,422.6 558.3,424.1 562.2,425.6 566.0,427.2 569.9,429.0 573.7,430.8 577.5,432.8 581.4,434.8 585.2,436.9 589.1,439.1 592.9,441.4 596.7,443.7 600.6,446.1 604.4,448.6 608.2,451.2 612.1,453.8 615.9,456.5 619.8,459.2 623.6,462.0 627.4,464.8 631.3,467.7 635.1,470.6 638.9,473.6 642.8,476.5 646.6,479.5 650.5,482.6 654.3,485.6 658.1,488.7 662.0,491.8 665.8,494.9 669.6,498.0 673.5,501.1 677.3,504.2 681.2,507.3 685.0,510.4 688.8,513.5 692.7,516.6 696.5,519.7 700.4,522.7 704.2,525.7 708.0,528.7 711.9,531.7 715.7,534.6 719.5,537.5 723.4,540.4 727.2,543.2 731.1,546.0 734.9,548.7 738.7,551.4 742.6,554.0 746.4,556.6 750.2,559.2 754.1,561.7 757.9,564.1 761.8,566.5 765.6,568.9 769.4,571.1 773.3,573.3 777.1,575.5 780.9,577.6 784.8,579.6 788.6,581.6 792.5,583.5 796.3,585.4 800.1,587.2 804.0,588.9 807.8,590.6 811.7,592.2 815.5,593.7 819.3,595.2 823.2,596.6 827.0,597.9 830.8,599.2 834.7,600.5 838.5,601.6 842.4,602.7 846.2,603.8 850.0,604.7 853.9,605.7 857.7,606.5 861.5,607.3 865.4,608.1 869.2,608.8 873.1,609.4 876.9,610.0 880.7,610.5 884.6,611.0 888.4,611.4 892.2,611.8" fill="none" stroke="rgb(0, 190, 239)" stroke-width="4.00" stroke-linejoin="round"/>
<polyline points="128.5,627.4 132.3,626.4 136.2,625.4 140.0,624.3 143.9,623.2 147.7,622.1 151.5,620.9 155.4,619.6 159.2,618.3 163.0,616.9 166.9,615.5 170.7,614.0 174.6,612.5 178.4,610.9 182.2,609.3 186.1,607.6 189.9,605.9 193.7,604.1 197.6,602.2 201.4,600.3 205.3,598.4 209.1,596.4 212.9,594.3 216.8,592.2 220.6,590.1 224.4,587.9 228.3,585.6 232.1,583.3 236.0,581.0 239.8,578.6 243.6,576.2 247.5,573.7 251.3,571.2 255.2,568.6 259.0,566.0 262.8,563.4 266.7,560.7 270.5,558.0 274.3,555.3 278.2,552.5 282.0,549.7 285.9,546.9 289.7,544.1 293.5,541.2 297.4,538.4 301.2,535.5 305.0,532.5 308.9,529.6 312.7,526.7 316.6,523.8 320.4,520.8 324.2,517.9 328.1,514.9 331.9,512.0 335.7,509.0 339.6,506.1 343.4,503.2 347.3,500.3 351.1,497.4 354.9,494.5 358.8,491.7 362.6,488.9 366.5,486.1 370.3,483.3 374.1,480.6 378.0,477.9 381.8,475.3 385.6,472.7 389.5,470.1 393.3,467.6 397.2,465.1 401.0,462.7 404.8,460.4 408.7,458.1 412.5,455.9 416.3,453.7 420.2,451.6 424.0,449.6 427.9,447.7 431.7,445.8 435.5,444.0 439.4,442.3 443.2,440.6 447.0,439.1 450.9,437.6 454.7,436.2 458.6,434.9 462.4,433.7 466.2,432.6 470.1,431.6 473.9,430.7 477.8,429.8 481.6,429.1 485.4,428.4 489.3,427.9 493.1,427.4 496.9,427.1 500.8,426.8 504.6,426.6 508.5,426.6 512.3,426.7 516.1,426.8 520.0,427.1 523.8,427.5 527.6,428.0 531.5,428.6 535.3,429.3 539.2,430.1 543.0,431.0 546.8,432.0 550.7,433.1 554.5,434.3 558.3,435.6 562.2,437.0 566.0,438.4 569.9,440.0 573.7,441.7 577.5,443.4 581.4,445.2 585.2,447.1 589.1,449.1 592.9,451.1 596.7,453.2 600.6,455.4 604.4,457.7 608.2,460.0 612.1,462.4 615.9,464.8 619.8,467.3 623.6,469.8 627.4,472.4 631.3,475.0 635.1,477.6 638.9,480.3 642.8,483.1 646.6,485.8 650.5,488.6 654.3,491.4 658.1,494.2 662.0,497.1 665.8,499.9 669.6,502.8 673.5,505.7 677.3,508.5 681.2,511.4 685.0,514.3 688.8,517.1 692.7,520.0 696.5,522.9 700.4,525.7 704.2,528.5 708.0,531.3 711.9,534.1 715.7,536.9 719.5,539.6 723.4,542.3 727.2,545.0 731.1,547.6 734.9,550.2 738.7,552.8 742.6,555.3 746.4,557.8 750.2,560.2 754.1,562.6 757.9,565.0 761.8,567.3 765.6,569.6 769.4,571.8 773.3,573.9 777.1,576.0 780.9,578.1 784.8,580.1 788.6,582.1 792.5,584.0 796.3,585.8 800.1,587.6 804.0,589.3 807.8,591.0 811.7,592.6 815.5,594.2 819.3,595.7 823.2,597.2 827.0,598.5 830.8,599.9 834.7,601.2 838.5,602.4 842.4,603.6 846.2,604.7 850.0,605.7 853.9,606.7 857.7,607.7 861.5,608.6 865.4,609.4 869.2,610.2 873.1,610.9 876.9,611.6 880.7,612.2 884.6,612.8 888.4,613.4 892.2,613.9" fill="none" stroke="rgb(10, 194, 240)" stroke-width="4.00" stroke-linejoin="round"/>
<polyline points="128.5,630.8 132.3,629.9 136.2,629.0 140.0,628.0 143.9,627.0 147.7,625.9 151.5,624.8 155.4,623.6 159.2,622.4 163.0,621.1 166.9,619.8 170.7,618.4 174.6,617.0 178.4,615.5 182.2,614.0 186.1,612.4 189.9,610.8 193.7,609.1 197.6,607.4 201.4,605.6 205.3,603.8 209.1,601.9 212.9,600.0 216.8,598.1 220.6,596.1 224.4,594.0 228.3,591.9 232.1,589.8 236.0,587.6 239.8,585.3 243.6,583.1 247.5,580.8 251.3,578.4 255.2,576.0 259.0,573.6 262.8,571.1 266.7,568.6 270.5,566.1 274.3,563.6 278.2,561.0 282.0,558.4 285.9,555.7 289.7,553.1 293.5,550.4 297.4,547.7 301.2,545.0 305.0,542.3 308.9,539.5 312.7,536.8 316.6,534.0 320.4,531.3 324.2,528.5 328.1,525.8 331.9,523.0 335.7,520.2 339.6,517.5 343.4,514.8 347.3,512.0 351.1,509.3 354.9,506.6 358.8,504.0 362.6,501.3 366.5,498.7 370.3,496.1 374.1,493.6 378.0,491.0 381.8,488.6 385.6,486.1 389.5,483.7 393.3,481.4 397.2,479.0 401.0,476.8 404.8,474.6 408.7,472.4 412.5,470.3 416.3,468.3 420.2,466.3 424.0,464.4 427.9,462.6 431.7,460.8 435.5,459.1 439.4,457.5 443.2,456.0 447.0,454.5 450.9,453.1 454.7,451.8 458.6,450.6 462.4,449.4 466.2,448.4 470.1,447.4 473.9,446.5 477.8,445.7 481.6,445.0 485.4,444.4 489.3,443.9 493.1,443.4 496.9,443.1 500.8,442.8 504.6,442.7 508.5,442.6 512.3,442.6 516.1,442.8 520.0,443.0 523.8,443.3 527.6,443.8 531.5,444.3 535.3,444.9 539.2,445.6 543.0,446.4 546.8,447.2 550.7,448.2 554.5,449.2 558.3,450.4 562.2,451.6 566.0,452.9 569.9,454.3 573.7,455.7 577.5,457.3 581.4,458.9 585.2,460.5 589.1,462.3 592.9,464.1 596.7,466.0 600.6,467.9 604.4,469.9 608.2,472.0 612.1,474.1 615.9,476.3 619.8,478.5 623.6,480.7 627.4,483.0 631.3,485.4 635.1,487.8 638.9,490.2 642.8,492.6 646.6,495.1 650.5,497.6 654.3,500.1 658.1,502.7 662.0,505.2 665.8,507.8 669.6,510.4 673.5,513.0 677.3,515.6 681.2,518.3 685.0,520.9 688.8,523.5 692.7,526.1 696.5,528.7 700.4,531.3 704.2,533.9 708.0,536.5 711.9,539.1 715.7,541.6 719.5,544.1 723.4,546.6 727.2,549.1 731.1,551.6 734.9,554.0 738.7,556.4 742.6,558.8 746.4,561.1 750.2,563.4 754.1,565.7 757.9,567.9 761.8,570.1 765.6,572.2 769.4,574.3 773.3,576.4 777.1,578.4 780.9,580.4 784.8,582.3 788.6,584.2 792.5,586.0 796.3,587.8 800.1,589.6 804.0,591.3 807.8,592.9 811.7,594.5 815.5,596.0 819.3,597.5 823.2,599.0 827.0,600.4 830.8,601.7 834.7,603.0 838.5,604.3 842.4,605.5 846.2,606.6 850.0,607.7 853.9,608.7 857.7,609.7 861.5,610.7 865.4,611.6 869.2,612.4 873.1,613.2 876.9,614.0 880.7,614.7 884.6,615.4 888.4,616.0 892.2,616.6" fill="none" stroke="rgb(30, 198, 240)" stroke-width="3.89" stroke-linejoin="round"/>
<polyline points="128.5,632.7 132.3,631.8 136.2,631.0 140.0,630.0 143.9,629.1 147.7,628.0 151.5,627.0 155.4,625.8 159.2,624.7 163.0,623.5 166.9,622.2 170.7,620.9 174.6,619.6 178.4,618.2 182.2,616.7 186.1,615.2 189.9,613.7 193.7,612.1 197.6,610.5 201.4,608.8 205.3,607.1 209.1,605.3 212.9,603.5 216.8,601.6 220.6,599.7 224.4,597.7 228.3,595.7 232.1,593.7 236.0,591.6 239.8,589.5 243.6,587.3 247.5,585.2 251.3,582.9 255.2,580.6 259.0,578.3 262.8,576.0 266.7,573.6 270.5,571.2 274.3,568.8 278.2,566.4 282.0,563.9 285.9,561.4 289.7,558.8 293.5,556.3 297.4,553.7 301.2,551.2 305.0,548.6 308.9,546.0 312.7,543.3 316.6,540.7 320.4,538.1 324.2,535.5 328.1,532.8 331.9,530.2 335.7,527.6 339.6,525.0 343.4,522.4 347.3,519.8 351.1,517.2 354.9,514.6 358.8,512.1 362.6,509.6 366.5,507.1 370.3,504.6 374.1,502.2 378.0,499.8 381.8,497.4 385.6,495.1 389.5,492.8 393.3,490.5 397.2,488.3 401.0,486.2 404.8,484.1 408.7,482.0 412.5,480.0 416.3,478.1 420.2,476.2 424.0,474.4 427.9,472.6 431.7,470.9 435.5,469.3 439.4,467.8 443.2,466.3 447.0,464.9 450.9,463.6 454.7,462.3 458.6,461.1 462.4,460.0 466.2,459.0 470.1,458.1 473.9,457.2 477.8,456.5 481.6,455.8 485.4,455.2 489.3,454.7 493.1,454.2 496.9,453.9 500.8,453.6 504.6,453.5 508.5,453.4 512.3,453.4 516.1,453.6 520.0,453.8 523.8,454.1 527.6,454.5 531.5,454.9 535.3,455.5 539.2,456.2 543.0,456.9 546.8,457.7 550.7,458.6 554.5,459.6 558.3,460.7 562.2,461.8 566.0,463.1 569.9,464.4 573.7,465.8 577.5,467.2 581.4,468.7 585.2,470.3 589.1,472.0 592.9,473.7 596.7,475.5 600.6,477.3 604.4,479.2 608.2,481.2 612.1,483.2 615.9,485.2 619.8,487.3 623.6,489.5 627.4,491.7 631.3,493.9 635.1,496.2 638.9,498.4 642.8,500.8 646.6,503.1 650.5,505.5 654.3,507.9 658.1,510.3 662.0,512.8 665.8,515.2 669.6,517.7 673.5,520.2 677.3,522.7 681.2,525.2 685.0,527.7 688.8,530.2 692.7,532.7 696.5,535.1 700.4,537.6 704.2,540.1 708.0,542.5 711.9,545.0 715.7,547.4 719.5,549.8 723.4,552.2 727.2,554.6 731.1,556.9 734.9,559.2 738.7,561.5 742.6,563.8 746.4,566.0 750.2,568.2 754.1,570.3 757.9,572.4 761.8,574.5 765.6,576.6 769.4,578.6 773.3,580.6 777.1,582.5 780.9,584.4 784.8,586.2 788.6,588.0 792.5,589.8 796.3,591.5 800.1,593.1 804.0,594.8 807.8,596.3 811.7,597.9 815.5,599.3 819.3,600.8 823.2,602.1 827.0,603.5 830.8,604.8 834.7,606.0 838.5,607.2 842.4,608.3 846.2,609.4 850.0,610.5 853.9,611.5 857.7,612.4 861.5,613.3 865.4,614.2 869.2,615.0 873.1,615.8 876.9,616.5 880.7,617.2 884.6,617.8 888.4,618.4 892.2,619.0" fill="none" stroke="rgb(50, 203, 242)" stroke-width="3.78" stroke-linejoin="round"/>
<polyline points="128.5,635.2 132.3,634.5 136.2,633.6 140.0,632.8 143.9,631.9 147.7,630.9 151.5,630.0 155.4,628.9 159.2,627.9 163.0,626.7 166.9,625.6 170.7,624.4 174.6,623.1 178.4,621.8 182.2,620.5 186.1,619.1 189.9,617.7 193.7,616.2 197.6,614.7 201.4,613.1 205.3,611.5 209.1,609.9 212.9,608.2 216.8,606.5 220.6,604.7 224.4,602.9 228.3,601.0 232.1,599.2 236.0,597.2 239.8,595.3 243.6,593.3 247.5,591.2 251.3,589.2 255.2,587.0 259.0,584.9 262.8,582.7 266.7,580.5 270.5,578.3 274.3,576.1 278.2,573.8 282.0,571.5 285.9,569.1 289.7,566.8 293.5,564.4 297.4,562.1 301.2,559.7 305.0,557.2 308.9,554.8 312.7,552.4 316.6,550.0 320.4,547.5 324.2,545.1 328.1,542.6 331.9,540.2 335.7,537.7 339.6,535.3 343.4,532.9 347.3,530.5 351.1,528.1 354.9,525.7 358.8,523.3 362.6,521.0 366.5,518.6 370.3,516.3 374.1,514.1 378.0,511.8 381.8,509.6 385.6,507.4 389.5,505.3 393.3,503.2 397.2,501.2 401.0,499.2 404.8,497.2 408.7,495.3 412.5,493.4 416.3,491.6 420.2,489.8 424.0,488.1 427.9,486.5 431.7,484.9 435.5,483.4 439.4,482.0 443.2,480.6 447.0,479.3 450.9,478.0 454.7,476.8 458.6,475.7 462.4,474.7 466.2,473.7 470.1,472.9 473.9,472.1 477.8,471.3 481.6,470.7 485.4,470.1 489.3,469.6 493.1,469.2 496.9,468.9 500.8,468.6 504.6,468.5 508.5,468.4 512.3,468.4 516.1,468.5 520.0,468.7 523.8,469.0 527.6,469.3 531.5,469.8 535.3,470.3 539.2,470.9 543.0,471.6 546.8,472.3 550.7,473.1 554.5,474.1 558.3,475.0 562.2,476.1 566.0,477.2 569.9,478.4 573.7,479.7 577.5,481.0 581.4,482.5 585.2,483.9 589.1,485.5 592.9,487.0 596.7,488.7 600.6,490.4 604.4,492.2 608.2,494.0 612.1,495.8 615.9,497.7 619.8,499.7 623.6,501.7 627.4,503.7 631.3,505.8 635.1,507.9 638.9,510.0 642.8,512.2 646.6,514.3 650.5,516.6 654.3,518.8 658.1,521.0 662.0,523.3 665.8,525.6 669.6,527.9 673.5,530.2 677.3,532.5 681.2,534.8 685.0,537.1 688.8,539.5 692.7,541.8 696.5,544.1 700.4,546.4 704.2,548.7 708.0,551.0 711.9,553.3 715.7,555.5 719.5,557.8 723.4,560.0 727.2,562.2 731.1,564.4 734.9,566.5 738.7,568.6 742.6,570.7 746.4,572.8 750.2,574.9 754.1,576.9 757.9,578.8 761.8,580.8 765.6,582.7 769.4,584.6 773.3,586.4 777.1,588.2 780.9,590.0 784.8,591.7 788.6,593.4 792.5,595.0 796.3,596.6 800.1,598.1 804.0,599.7 807.8,601.1 811.7,602.5 815.5,603.9 819.3,605.3 823.2,606.5 827.0,607.8 830.8,609.0 834.7,610.2 838.5,611.3 842.4,612.3 846.2,613.4 850.0,614.3 853.9,615.3 857.7,616.2 861.5,617.0 865.4,617.8 869.2,618.6 873.1,619.3 876.9,620.0 880.7,620.6 884.6,621.2 888.4,621.8 892.2,622.3" fill="none" stroke="rgb(70, 208, 243)" stroke-width="3.67" stroke-linejoin="round"/>
<polyline points="128.5,637.1 132.3,636.3 136.2,635.6 140.0,634.8 143.9,633.9 147.7,633.0 151.5,632.1 155.4,631.1 159.2,630.1 163.0,629.1 166.9,628.0 170.7,626.8 174.6,625.7 178.4,624.4 182.2,623.2 186.1,621.9 189.9,620.5 193.7,619.1 197.6,617.7 201.4,616.2 205.3,614.7 209.1,613.2 212.9,611.6 216.8,610.0 220.6,608.3 224.4,606.6 228.3,604.8 232.1,603.1 236.0,601.2 239.8,599.4 243.6,597.5 247.5,595.6 251.3,593.6 255.2,591.6 259.0,589.6 262.8,587.6 266.7,585.5 270.5,583.4 274.3,581.2 278.2,579.1 282.0,576.9 285.9,574.7 289.7,572.5 293.5,570.3 297.4,568.0 301.2,565.7 305.0,563.5 308.9,561.2 312.7,558.9 316.6,556.6 320.4,554.3 324.2,552.0 328.1,549.6 331.9,547.3 335.7,545.0 339.6,542.7 343.4,540.4 347.3,538.1 351.1,535.9 354.9,533.6 358.8,531.4 362.6,529.1 366.5,526.9 370.3,524.8 374.1,522.6 378.0,520.5 381.8,518.4 385.6,516.3 389.5,514.3 393.3,512.3 397.2,510.4 401.0,508.5 404.8,506.6 408.7,504.8 412.5,503.0 416.3,501.3 420.2,499.7 424.0,498.0 427.9,496.5 431.7,495.0 435.5,493.5 439.4,492.2 443.2,490.8 447.0,489.6 450.9,488.4 454.7,487.3 458.6,486.2 462.4,485.3 466.2,484.3 470.1,483.5 473.9,482.7 477.8,482.0 481.6,481.4 485.4,480.9 489.3,480.4 493.1,480.0 496.9,479.7 500.8,479.5 504.6,479.3 508.5,479.2 512.3,479.2 516.1,479.3 520.0,479.5 523.8,479.7 527.6,480.0 531.5,480.4 535.3,480.9 539.2,481.5 543.0,482.1 546.8,482.8 550.7,483.6 554.5,484.5 558.3,485.4 562.2,486.4 566.0,487.4 569.9,488.6 573.7,489.8 577.5,491.0 581.4,492.4 585.2,493.7 589.1,495.2 592.9,496.7 596.7,498.2 600.6,499.8 604.4,501.5 608.2,503.2 612.1,505.0 615.9,506.8 619.8,508.6 623.6,510.5 627.4,512.4 631.3,514.3 635.1,516.3 638.9,518.3 642.8,520.4 646.6,522.4 650.5,524.5 654.3,526.6 658.1,528.8 662.0,530.9 665.8,533.1 669.6,535.2 673.5,537.4 677.3,539.6 681.2,541.8 685.0,544.0 688.8,546.2 692.7,548.4 696.5,550.6 700.4,552.8 704.2,554.9 708.0,557.1 711.9,559.2 715.7,561.4 719.5,563.5 723.4,565.6 727.2,567.7 731.1,569.7 734.9,571.8 738.7,573.8 742.6,575.8 746.4,577.8 750.2,579.7 754.1,581.6 757.9,583.5 761.8,585.3 765.6,587.1 769.4,588.9 773.3,590.6 777.1,592.3 780.9,594.0 784.8,595.6 788.6,597.2 792.5,598.8 796.3,600.3 800.1,601.8 804.0,603.2 807.8,604.6 811.7,605.9 815.5,607.3 819.3,608.5 823.2,609.7 827.0,610.9 830.8,612.1 834.7,613.2 838.5,614.2 842.4,615.2 846.2,616.2 850.0,617.1 853.9,618.0 857.7,618.9 861.5,619.7 865.4,620.5 869.2,621.2 873.1,621.9 876.9,622.5 880.7,623.1 884.6,623.7 888.4,624.2 892.2,624.7" fill="none" stroke="rgb(95, 213, 244)" stroke-width="3.56" stroke-linejoin="round"/>
<polyline points="128.5,639.4 132.3,638.7 136.2,638.0 140.0,637.3 143.9,636.5 147.7,635.7 151.5,634.8 155.4,633.9 159.2,633.0 163.0,632.0 166.9,631.0 170.7,629.9 174.6,628.8 178.4,627.7 182.2,626.6 186.1,625.3 189.9,624.1 193.7,622.8 197.6,621.5 201.4,620.1 205.3,618.7 209.1,617.3 212.9,615.8 216.8,614.3 220.6,612.8 224.4,611.2 228.3,609.6 232.1,607.9 236.0,606.3 239.8,604.5 243.6,602.8 247.5,601.0 251.3,599.2 255.2,597.4 259.0,595.5 262.8,593.6 266.7,591.7 270.5,589.7 274.3,587.7 278.2,585.7 282.0,583.7 285.9,581.7 289.7,579.6 293.5,577.6 297.4,575.5 301.2,573.4 305.0,571.3 308.9,569.1 312.7,567.0 316.6,564.9 320.4,562.7 324.2,560.6 328.1,558.4 331.9,556.3 335.7,554.1 339.6,552.0 343.4,549.9 347.3,547.8 351.1,545.6 354.9,543.6 358.8,541.5 362.6,539.4 366.5,537.4 370.3,535.3 374.1,533.3 378.0,531.4 381.8,529.4 385.6,527.5 389.5,525.6 393.3,523.8 397.2,522.0 401.0,520.2 404.8,518.5 408.7,516.8 412.5,515.1 416.3,513.5 420.2,512.0 424.0,510.5 427.9,509.0 431.7,507.6 435.5,506.3 439.4,505.0 443.2,503.8 447.0,502.6 450.9,501.5 454.7,500.4 458.6,499.5 462.4,498.5 466.2,497.7 470.1,496.9 473.9,496.2 477.8,495.5 481.6,494.9 485.4,494.4 489.3,494.0 493.1,493.6 496.9,493.3 500.8,493.1 504.6,492.9 508.5,492.8 512.3,492.8 516.1,492.9 520.0,493.0 523.8,493.2 527.6,493.5 531.5,493.9 535.3,494.3 539.2,494.8 543.0,495.4 546.8,496.1 550.7,496.8 554.5,497.6 558.3,498.4 562.2,499.3 566.0,500.3 569.9,501.4 573.7,502.5 577.5,503.6 581.4,504.8 585.2,506.1 589.1,507.5 592.9,508.8 596.7,510.3 600.6,511.8 604.4,513.3 608.2,514.9 612.1,516.5 615.9,518.1 619.8,519.8 623.6,521.6 627.4,523.4 631.3,525.2 635.1,527.0 638.9,528.9 642.8,530.8 646.6,532.7 650.5,534.6 654.3,536.6 658.1,538.5 662.0,540.5 665.8,542.5 669.6,544.5 673.5,546.6 677.3,548.6 681.2,550.6 685.0,552.7 688.8,554.7 692.7,556.7 696.5,558.8 700.4,560.8 704.2,562.8 708.0,564.8 711.9,566.8 715.7,568.8 719.5,570.8 723.4,572.7 727.2,574.7 731.1,576.6 734.9,578.5 738.7,580.3 742.6,582.2 746.4,584.0 750.2,585.8 754.1,587.6 757.9,589.3 761.8,591.0 765.6,592.7 769.4,594.4 773.3,596.0 777.1,597.6 780.9,599.1 784.8,600.7 788.6,602.1 792.5,603.6 796.3,605.0 800.1,606.4 804.0,607.7 807.8,609.0 811.7,610.2 815.5,611.5 819.3,612.6 823.2,613.8 827.0,614.9 830.8,616.0 834.7,617.0 838.5,618.0 842.4,618.9 846.2,619.8 850.0,620.7 853.9,621.5 857.7,622.3 861.5,623.1 865.4,623.8 869.2,624.5 873.1,625.1 876.9,625.7 880.7,626.3 884.6,626.8 888.4,627.3 892.2,627.8" fill="none" stroke="rgb(120, 219, 245)" stroke-width="3.45" stroke-linejoin="round"/>
<polyline points="128.5,642.7 132.3,642.1 136.2,641.5 140.0,640.9 143.9,640.2 147.7,639.5 151.5,638.7 155.4,637.9 159.2,637.1 163.0,636.2 166.9,635.3 170.7,634.4 174.6,633.5 178.4,632.5 182.2,631.4 186.1,630.4 189.9,629.3 193.7,628.2 197.6,627.0 201.4,625.8 205.3,624.6 209.1,623.3 212.9,622.0 216.8,620.7 220.6,619.3 224.4,617.9 228.3,616.5 232.1,615.0 236.0,613.5 239.8,612.0 243.6,610.5 247.5,608.9 251.3,607.3 255.2,605.7 259.0,604.0 262.8,602.4 266.7,600.7 270.5,598.9 274.3,597.2 278.2,595.4 282.0,593.6 285.9,591.8 289.7,590.0 293.5,588.2 297.4,586.3 301.2,584.5 305.0,582.6 308.9,580.7 312.7,578.8 316.6,576.9 320.4,575.0 324.2,573.1 328.1,571.2 331.9,569.3 335.7,567.4 339.6,565.5 343.4,563.6 347.3,561.8 351.1,559.9 354.9,558.0 358.8,556.2 362.6,554.4 366.5,552.5 370.3,550.7 374.1,549.0 378.0,547.2 381.8,545.5 385.6,543.8 389.5,542.1 393.3,540.5 397.2,538.9 401.0,537.3 404.8,535.7 408.7,534.2 412.5,532.8 416.3,531.3 420.2,529.9 424.0,528.6 427.9,527.3 431.7,526.1 435.5,524.9 439.4,523.7 443.2,522.6 447.0,521.6 450.9,520.6 454.7,519.6 458.6,518.8 462.4,517.9 466.2,517.2 470.1,516.5 473.9,515.8 477.8,515.2 481.6,514.7 485.4,514.2 489.3,513.8 493.1,513.5 496.9,513.2 500.8,513.0 504.6,512.8 508.5,512.7 512.3,512.7 516.1,512.8 520.0,512.9 523.8,513.1 527.6,513.3 531.5,513.6 535.3,514.0 539.2,514.4 543.0,514.9 546.8,515.5 550.7,516.1 554.5,516.8 558.3,517.5 562.2,518.3 566.0,519.2 569.9,520.1 573.7,521.1 577.5,522.1 581.4,523.2 585.2,524.3 589.1,525.5 592.9,526.7 596.7,527.9 600.6,529.3 604.4,530.6 608.2,532.0 612.1,533.4 615.9,534.9 619.8,536.4 623.6,537.9 627.4,539.5 631.3,541.1 635.1,542.7 638.9,544.4 642.8,546.0 646.6,547.7 650.5,549.4 654.3,551.2 658.1,552.9 662.0,554.7 665.8,556.4 669.6,558.2 673.5,560.0 677.3,561.8 681.2,563.6 685.0,565.4 688.8,567.2 692.7,569.0 696.5,570.8 700.4,572.6 704.2,574.4 708.0,576.2 711.9,578.0 715.7,579.7 719.5,581.5 723.4,583.2 727.2,584.9 731.1,586.6 734.9,588.3 738.7,590.0 742.6,591.6 746.4,593.2 750.2,594.8 754.1,596.4 757.9,598.0 761.8,599.5 765.6,601.0 769.4,602.5 773.3,603.9 777.1,605.3 780.9,606.7 784.8,608.0 788.6,609.4 792.5,610.6 796.3,611.9 800.1,613.1 804.0,614.3 807.8,615.5 811.7,616.6 815.5,617.7 819.3,618.7 823.2,619.8 827.0,620.7 830.8,621.7 834.7,622.6 838.5,623.5 842.4,624.3 846.2,625.1 850.0,625.9 853.9,626.7 857.7,627.4 861.5,628.0 865.4,628.7 869.2,629.3 873.1,629.9 876.9,630.4 880.7,630.9 884.6,631.4 888.4,631.8 892.2,632.3" fill="none" stroke="rgb(145, 226, 247)" stroke-width="3.34" stroke-linejoin="round"/>
<polyline points="128.5,644.6 132.3,644.0 136.2,643.4 140.0,642.8 143.9,642.2 147.7,641.5 151.5,640.8 155.4,640.1 159.2,639.3 163.0,638.5 166.9,637.7 170.7,636.9 174.6,636.0 178.4,635.1 182.2,634.1 186.1,633.1 189.9,632.1 193.7,631.1 197.6,630.0 201.4,628.9 205.3,627.7 209.1,626.6 212.9,625.4 216.8,624.1 220.6,622.9 224.4,621.6 228.3,620.2 232.1,618.9 236.0,617.5 239.8,616.1 243.6,614.7 247.5,613.2 251.3,611.7 255.2,610.2 259.0,608.7 262.8,607.1 266.7,605.5 270.5,603.9 274.3,602.3 278.2,600.7 282.0,599.0 285.9,597.3 289.7,595.7 293.5,594.0 297.4,592.2 301.2,590.5 305.0,588.8 308.9,587.0 312.7,585.3 316.6,583.5 320.4,581.7 324.2,580.0 328.1,578.2 331.9,576.4 335.7,574.7 339.6,572.9 343.4,571.2 347.3,569.4 351.1,567.7 354.9,565.9 358.8,564.2 362.6,562.5 366.5,560.8 370.3,559.1 374.1,557.5 378.0,555.9 381.8,554.2 385.6,552.7 389.5,551.1 393.3,549.6 397.2,548.1 401.0,546.6 404.8,545.2 408.7,543.8 412.5,542.4 416.3,541.1 420.2,539.8 424.0,538.5 427.9,537.3 431.7,536.1 435.5,535.0 439.4,533.9 443.2,532.9 447.0,531.9 450.9,531.0 454.7,530.1 458.6,529.3 462.4,528.5 466.2,527.8 470.1,527.2 473.9,526.5 477.8,526.0 481.6,525.5 485.4,525.0 489.3,524.7 493.1,524.3 496.9,524.1 500.8,523.9 504.6,523.7 508.5,523.6 512.3,523.6 516.1,523.6 520.0,523.7 523.8,523.9 527.6,524.1 531.5,524.4 535.3,524.8 539.2,525.2 543.0,525.6 546.8,526.1 550.7,526.7 554.5,527.3 558.3,528.0 562.2,528.8 566.0,529.6 569.9,530.4 573.7,531.3 577.5,532.2 581.4,533.2 585.2,534.3 589.1,535.4 592.9,536.5 596.7,537.7 600.6,538.9 604.4,540.1 608.2,541.4 612.1,542.7 615.9,544.1 619.8,545.5 623.6,546.9 627.4,548.4 631.3,549.8 635.1,551.3 638.9,552.9 642.8,554.4 646.6,556.0 650.5,557.6 654.3,559.2 658.1,560.8 662.0,562.5 665.8,564.1 669.6,565.8 673.5,567.4 677.3,569.1 681.2,570.8 685.0,572.4 688.8,574.1 692.7,575.8 696.5,577.5 700.4,579.1 704.2,580.8 708.0,582.5 711.9,584.1 715.7,585.8 719.5,587.4 723.4,589.0 727.2,590.6 731.1,592.2 734.9,593.7 738.7,595.3 742.6,596.8 746.4,598.3 750.2,599.8 754.1,601.3 757.9,602.7 761.8,604.2 765.6,605.5 769.4,606.9 773.3,608.3 777.1,609.6 780.9,610.9 784.8,612.1 788.6,613.3 792.5,614.5 796.3,615.7 800.1,616.9 804.0,618.0 807.8,619.0 811.7,620.1 815.5,621.1 819.3,622.1 823.2,623.0 827.0,624.0 830.8,624.8 834.7,625.7 838.5,626.5 842.4,627.3 846.2,628.1 850.0,628.8 853.9,629.5 857.7,630.1 861.5,630.8 865.4,631.4 869.2,631.9 873.1,632.5 876.9,633.0 880.7,633.5 884.6,633.9 888.4,634.3 892.2,634.7" fill="none" stroke="rgb(160, 230, 247)" stroke-width="3.23" stroke-linejoin="round"/>
<polyline points="128.5,647.4 132.3,646.9 136.2,646.4 140.0,645.9 143.9,645.3 147.7,644.8 151.5,644.1 155.4,643.5 159.2,642.8 163.0,642.1 166.9,641.4 170.7,640.7 174.6,639.9 178.4,639.1 182.2,638.3 186.1,637.4 189.9,636.5 193.7,635.6 197.6,634.6 201.4,633.7 205.3,632.7 209.1,631.6 212.9,630.6 216.8,629.5 220.6,628.4 224.4,627.2 228.3,626.1 232.1,624.9 236.0,623.7 239.8,622.4 243.6,621.2 247.5,619.9 251.3,618.6 255.2,617.3 259.0,615.9 262.8,614.5 266.7,613.2 270.5,611.8 274.3,610.3 278.2,608.9 282.0,607.4 285.9,606.0 289.7,604.5 293.5,603.0 297.4,601.5 301.2,599.9 305.0,598.4 308.9,596.9 312.7,595.3 316.6,593.8 320.4,592.2 324.2,590.6 328.1,589.1 331.9,587.5 335.7,586.0 339.6,584.4 343.4,582.9 347.3,581.3 351.1,579.8 354.9,578.3 358.8,576.7 362.6,575.2 366.5,573.7 370.3,572.3 374.1,570.8 378.0,569.4 381.8,567.9 385.6,566.5 389.5,565.2 393.3,563.8 397.2,562.5 401.0,561.2 404.8,559.9 408.7,558.7 412.5,557.5 416.3,556.3 420.2,555.1 424.0,554.0 427.9,553.0 431.7,551.9 435.5,550.9 439.4,550.0 443.2,549.1 447.0,548.2 450.9,547.4 454.7,546.6 458.6,545.8 462.4,545.2 466.2,544.5 470.1,543.9 473.9,543.4 477.8,542.9 481.6,542.4 485.4,542.0 489.3,541.7 493.1,541.4 496.9,541.2 500.8,541.0 504.6,540.8 508.5,540.7 512.3,540.7 516.1,540.7 520.0,540.8 523.8,540.9 527.6,541.1 531.5,541.4 535.3,541.7 539.2,542.0 543.0,542.4 546.8,542.9 550.7,543.4 554.5,543.9 558.3,544.5 562.2,545.1 566.0,545.8 569.9,546.6 573.7,547.3 577.5,548.2 581.4,549.0 585.2,550.0 589.1,550.9 592.9,551.9 596.7,552.9 600.6,554.0 604.4,555.1 608.2,556.2 612.1,557.4 615.9,558.6 619.8,559.8 623.6,561.0 627.4,562.3 631.3,563.6 635.1,564.9 638.9,566.3 642.8,567.7 646.6,569.0 650.5,570.4 654.3,571.9 658.1,573.3 662.0,574.7 665.8,576.2 669.6,577.6 673.5,579.1 677.3,580.6 681.2,582.0 685.0,583.5 688.8,585.0 692.7,586.5 696.5,588.0 700.4,589.4 704.2,590.9 708.0,592.4 711.9,593.8 715.7,595.3 719.5,596.7 723.4,598.1 727.2,599.5 731.1,600.9 734.9,602.3 738.7,603.7 742.6,605.0 746.4,606.4 750.2,607.7 754.1,609.0 757.9,610.3 761.8,611.5 765.6,612.7 769.4,614.0 773.3,615.1 777.1,616.3 780.9,617.4 784.8,618.6 788.6,619.6 792.5,620.7 796.3,621.7 800.1,622.8 804.0,623.7 807.8,624.7 811.7,625.6 815.5,626.5 819.3,627.4 823.2,628.2 827.0,629.0 830.8,629.8 834.7,630.6 838.5,631.3 842.4,632.0 846.2,632.7 850.0,633.3 853.9,633.9 857.7,634.5 861.5,635.1 865.4,635.6 869.2,636.1 873.1,636.6 876.9,637.1 880.7,637.5 884.6,637.9 888.4,638.3 892.2,638.6" fill="none" stroke="rgb(185, 237, 249)" stroke-width="3.12" stroke-linejoin="round"/>
<polyline points="128.5,651.0 132.3,650.6 136.2,650.2 140.0,649.8 143.9,649.3 147.7,648.8 151.5,648.3 155.4,647.8 159.2,647.2 163.0,646.7 166.9,646.1 170.7,645.5 174.6,644.8 178.4,644.2 182.2,643.5 186.1,642.8 189.9,642.0 193.7,641.3 197.6,640.5 201.4,639.7 205.3,638.9 209.1,638.0 212.9,637.1 216.8,636.2 220.6,635.3 224.4,634.4 228.3,633.4 232.1,632.5 236.0,631.4 239.8,630.4 243.6,629.4 247.5,628.3 251.3,627.2 255.2,626.1 259.0,625.0 262.8,623.9 266.7,622.7 270.5,621.6 274.3,620.4 278.2,619.2 282.0,618.0 285.9,616.8 289.7,615.5 293.5,614.3 297.4,613.1 301.2,611.8 305.0,610.5 308.9,609.3 312.7,608.0 316.6,606.7 320.4,605.4 324.2,604.1 328.1,602.8 331.9,601.5 335.7,600.2 339.6,598.9 343.4,597.6 347.3,596.4 351.1,595.1 354.9,593.8 358.8,592.6 362.6,591.3 366.5,590.1 370.3,588.8 374.1,587.6 378.0,586.4 381.8,585.2 385.6,584.1 389.5,582.9 393.3,581.8 397.2,580.7 401.0,579.6 404.8,578.5 408.7,577.5 412.5,576.5 416.3,575.5 420.2,574.6 424.0,573.6 427.9,572.7 431.7,571.9 435.5,571.1 439.4,570.3 443.2,569.5 447.0,568.8 450.9,568.1 454.7,567.4 458.6,566.8 462.4,566.2 466.2,565.7 470.1,565.2 473.9,564.7 477.8,564.3 481.6,563.9 485.4,563.6 489.3,563.3 493.1,563.0 496.9,562.8 500.8,562.6 504.6,562.5 508.5,562.4 512.3,562.4 516.1,562.4 520.0,562.5 523.8,562.6 527.6,562.7 531.5,562.9 535.3,563.1 539.2,563.4 543.0,563.7 546.8,564.1 550.7,564.5 554.5,565.0 558.3,565.4 562.2,566.0 566.0,566.5 569.9,567.1 573.7,567.8 577.5,568.5 581.4,569.2 585.2,569.9 589.1,570.7 592.9,571.5 596.7,572.4 600.6,573.2 604.4,574.1 608.2,575.1 612.1,576.0 615.9,577.0 619.8,578.0 623.6,579.1 627.4,580.1 631.3,581.2 635.1,582.3 638.9,583.4 642.8,584.5 646.6,585.7 650.5,586.8 654.3,588.0 658.1,589.2 662.0,590.4 665.8,591.6 669.6,592.8 673.5,594.0 677.3,595.2 681.2,596.4 685.0,597.7 688.8,598.9 692.7,600.1 696.5,601.4 700.4,602.6 704.2,603.8 708.0,605.0 711.9,606.2 715.7,607.4 719.5,608.6 723.4,609.8 727.2,611.0 731.1,612.1 734.9,613.3 738.7,614.4 742.6,615.5 746.4,616.7 750.2,617.7 754.1,618.8 757.9,619.9 761.8,620.9 765.6,622.0 769.4,623.0 773.3,624.0 777.1,624.9 780.9,625.9 784.8,626.8 788.6,627.7 792.5,628.6 796.3,629.5 800.1,630.3 804.0,631.1 807.8,631.9 811.7,632.7 815.5,633.4 819.3,634.2 823.2,634.9 827.0,635.5 830.8,636.2 834.7,636.8 838.5,637.4 842.4,638.0 846.2,638.6 850.0,639.1 853.9,639.7 857.7,640.1 861.5,640.6 865.4,641.1 869.2,641.5 873.1,641.9 876.9,642.3 880.7,642.6 884.6,643.0 888.4,643.3 892.2,643.6" fill="none" stroke="rgb(205, 242, 250)" stroke-width="3.01" stroke-linejoin="round"/>
<polyline points="128.5,654.1 132.3,653.8 136.2,653.5 140.0,653.1 143.9,652.7 147.7,652.4 151.5,651.9 155.4,651.5 159.2,651.1 163.0,650.6 166.9,650.1 170.7,649.6 174.6,649.1 178.4,648.6 182.2,648.0 186.1,647.4 189.9,646.8 193.7,646.2 197.6,645.6 201.4,644.9 205.3,644.2 209.1,643.5 212.9,642.8 216.8,642.1 220.6,641.4 224.4,640.6 228.3,639.8 232.1,639.0 236.0,638.2 239.8,637.3 243.6,636.5 247.5,635.6 251.3,634.7 255.2,633.8 259.0,632.9 262.8,632.0 266.7,631.1 270.5,630.1 274.3,629.1 278.2,628.2 282.0,627.2 285.9,626.2 289.7,625.2 293.5,624.2 297.4,623.1 301.2,622.1 305.0,621.1 308.9,620.0 312.7,619.0 316.6,617.9 320.4,616.9 324.2,615.8 328.1,614.7 331.9,613.7 335.7,612.6 339.6,611.6 343.4,610.5 347.3,609.4 351.1,608.4 354.9,607.4 358.8,606.3 362.6,605.3 366.5,604.3 370.3,603.3 374.1,602.3 378.0,601.3 381.8,600.3 385.6,599.3 389.5,598.4 393.3,597.5 397.2,596.6 401.0,595.7 404.8,594.8 408.7,593.9 412.5,593.1 416.3,592.3 420.2,591.5 424.0,590.8 427.9,590.0 431.7,589.3 435.5,588.6 439.4,588.0 443.2,587.3 447.0,586.7 450.9,586.1 454.7,585.6 458.6,585.1 462.4,584.6 466.2,584.2 470.1,583.7 473.9,583.4 477.8,583.0 481.6,582.7 485.4,582.4 489.3,582.2 493.1,581.9 496.9,581.8 500.8,581.6 504.6,581.5 508.5,581.4 512.3,581.4 516.1,581.4 520.0,581.4 523.8,581.5 527.6,581.6 531.5,581.8 535.3,582.0 539.2,582.2 543.0,582.5 546.8,582.7 550.7,583.1 554.5,583.4 558.3,583.8 562.2,584.2 566.0,584.7 569.9,585.2 573.7,585.7 577.5,586.3 581.4,586.8 585.2,587.5 589.1,588.1 592.9,588.8 596.7,589.4 600.6,590.2 604.4,590.9 608.2,591.7 612.1,592.4 615.9,593.2 619.8,594.1 623.6,594.9 627.4,595.8 631.3,596.7 635.1,597.5 638.9,598.5 642.8,599.4 646.6,600.3 650.5,601.3 654.3,602.2 658.1,603.2 662.0,604.2 665.8,605.2 669.6,606.1 673.5,607.1 677.3,608.1 681.2,609.1 685.0,610.1 688.8,611.2 692.7,612.2 696.5,613.2 700.4,614.2 704.2,615.2 708.0,616.2 711.9,617.2 715.7,618.1 719.5,619.1 723.4,620.1 727.2,621.1 731.1,622.0 734.9,623.0 738.7,623.9 742.6,624.8 746.4,625.7 750.2,626.6 754.1,627.5 757.9,628.4 761.8,629.3 765.6,630.1 769.4,630.9 773.3,631.7 777.1,632.5 780.9,633.3 784.8,634.1 788.6,634.8 792.5,635.6 796.3,636.3 800.1,637.0 804.0,637.6 807.8,638.3 811.7,638.9 815.5,639.6 819.3,640.2 823.2,640.7 827.0,641.3 830.8,641.8 834.7,642.4 838.5,642.9 842.4,643.3 846.2,643.8 850.0,644.3 853.9,644.7 857.7,645.1 861.5,645.5 865.4,645.9 869.2,646.2 873.1,646.5 876.9,646.9 880.7,647.1 884.6,647.4 888.4,647.7 892.2,647.9" fill="none" stroke="rgb(222, 246, 251)" stroke-width="2.90" stroke-linejoin="round"/>
<polyline points="128.5,656.5 132.3,656.2 136.2,655.9 140.0,655.6 143.9,655.3 147.7,655.0 151.5,654.7 155.4,654.3 159.2,653.9 163.0,653.5 166.9,653.1 170.7,652.7 174.6,652.3 178.4,651.8 182.2,651.4 186.1,650.9 189.9,650.4 193.7,649.9 197.6,649.4 201.4,648.8 205.3,648.2 209.1,647.7 212.9,647.1 216.8,646.5 220.6,645.8 224.4,645.2 228.3,644.6 232.1,643.9 236.0,643.2 239.8,642.5 243.6,641.8 247.5,641.1 251.3,640.3 255.2,639.6 259.0,638.8 262.8,638.1 266.7,637.3 270.5,636.5 274.3,635.7 278.2,634.9 282.0,634.0 285.9,633.2 289.7,632.4 293.5,631.5 297.4,630.7 301.2,629.8 305.0,628.9 308.9,628.1 312.7,627.2 316.6,626.3 320.4,625.4 324.2,624.5 328.1,623.7 331.9,622.8 335.7,621.9 339.6,621.0 343.4,620.1 347.3,619.2 351.1,618.4 354.9,617.5 358.8,616.6 362.6,615.8 366.5,614.9 370.3,614.1 374.1,613.2 378.0,612.4 381.8,611.6 385.6,610.8 389.5,610.0 393.3,609.2 397.2,608.5 401.0,607.7 404.8,607.0 408.7,606.3 412.5,605.6 416.3,604.9 420.2,604.2 424.0,603.6 427.9,603.0 431.7,602.4 435.5,601.8 439.4,601.2 443.2,600.7 447.0,600.2 450.9,599.7 454.7,599.3 458.6,598.8 462.4,598.4 466.2,598.1 470.1,597.7 473.9,597.4 477.8,597.1 481.6,596.8 485.4,596.6 489.3,596.4 493.1,596.2 496.9,596.0 500.8,595.9 504.6,595.8 508.5,595.7 512.3,595.7 516.1,595.7 520.0,595.7 523.8,595.8 527.6,595.9 531.5,596.0 535.3,596.2 539.2,596.3 543.0,596.6 546.8,596.8 550.7,597.1 554.5,597.4 558.3,597.7 562.2,598.0 566.0,598.4 569.9,598.8 573.7,599.2 577.5,599.7 581.4,600.2 585.2,600.7 589.1,601.2 592.9,601.8 596.7,602.3 600.6,602.9 604.4,603.5 608.2,604.2 612.1,604.8 615.9,605.5 619.8,606.2 623.6,606.9 627.4,607.6 631.3,608.3 635.1,609.1 638.9,609.8 642.8,610.6 646.6,611.4 650.5,612.2 654.3,613.0 658.1,613.8 662.0,614.6 665.8,615.4 669.6,616.3 673.5,617.1 677.3,617.9 681.2,618.8 685.0,619.6 688.8,620.4 692.7,621.3 696.5,622.1 700.4,622.9 704.2,623.8 708.0,624.6 711.9,625.4 715.7,626.3 719.5,627.1 723.4,627.9 727.2,628.7 731.1,629.5 734.9,630.3 738.7,631.1 742.6,631.9 746.4,632.6 750.2,633.4 754.1,634.1 757.9,634.8 761.8,635.6 765.6,636.3 769.4,637.0 773.3,637.6 777.1,638.3 780.9,639.0 784.8,639.6 788.6,640.2 792.5,640.8 796.3,641.4 800.1,642.0 804.0,642.6 807.8,643.1 811.7,643.7 815.5,644.2 819.3,644.7 823.2,645.2 827.0,645.7 830.8,646.1 834.7,646.5 838.5,647.0 842.4,647.4 846.2,647.8 850.0,648.1 853.9,648.5 857.7,648.8 861.5,649.2 865.4,649.5 869.2,649.8 873.1,650.1 876.9,650.3 880.7,650.6 884.6,650.8 888.4,651.0 892.2,651.2" fill="none" stroke="rgb(238, 250, 252)" stroke-width="2.79" stroke-linejoin="round"/>
</g>
<text transform="translate(135.89,167.1) scale(0.9236,1)" font-size="38.11">HQ Concentration</text><text transform="translate(222.55,219.26) scale(0.9754,1)" font-size="35.17">0 μM</text><text transform="translate(218.81,325.46) scale(0.9885,1)" font-size="35.17">66 μM</text>
<line x1="198.1" y1="199" x2="198.1" y2="312" stroke="#000" stroke-width="3.6"/>
<polygon points="190.9,307.8 206.3,307.8 198.1,333.2" fill="#000"/>
<!-- Panel b -->
<text transform="translate(970.18,98.2) scale(1.0456,1)" font-size="108.36">b</text><text transform="translate(1051.35,131.8) scale(0.965,1)" font-size="39.3">2</text><text transform="translate(1048.24,440.3) scale(0.965,1)" font-size="39.3">1</text><text transform="translate(1050.55,748.95) scale(0.965,1)" font-size="39.3">0</text><text transform="translate(1115.62,780.95) scale(0.965,1)" font-size="39.3">0</text><text transform="translate(1468.92,780.78) scale(0.965,1)" font-size="39.3">35</text><text transform="translate(1831.35,780.95) scale(0.965,1)" font-size="39.3">70</text><text transform="translate(1227.73,846.39) scale(0.9757,1)" font-size="53.82">Concentration (μM)</text><text transform="translate(1031.41,582.83) rotate(-90) scale(1.0211,1)" font-size="51.41">Absorbance</text>
<g stroke="rgb(0,170,232)" stroke-width="2.6">
<line x1="1126.7" y1="199.5" x2="1126.7" y2="217.7"/><line x1="1118.7" y1="199.5" x2="1134.7" y2="199.5"/><line x1="1118.7" y1="217.7" x2="1134.7" y2="217.7"/><line x1="1157.8" y1="215.9" x2="1157.8" y2="242.4"/><line x1="1149.8" y1="215.9" x2="1165.8" y2="215.9"/><line x1="1149.8" y1="242.4" x2="1165.8" y2="242.4"/><line x1="1189.0" y1="210.9" x2="1189.0" y2="274.2"/><line x1="1181.0" y1="210.9" x2="1197.0" y2="210.9"/><line x1="1181.0" y1="274.2" x2="1197.0" y2="274.2"/><line x1="1220.1" y1="230" x2="1220.1" y2="291.9"/><line x1="1212.1" y1="230" x2="1228.1" y2="230"/><line x1="1212.1" y1="291.9" x2="1228.1" y2="291.9"/><line x1="1251.3" y1="275.7" x2="1251.3" y2="322.8"/><line x1="1243.3" y1="275.7" x2="1259.3" y2="275.7"/><line x1="1243.3" y1="322.8" x2="1259.3" y2="322.8"/><line x1="1282.4" y1="299.3" x2="1282.4" y2="355.2"/><line x1="1274.4" y1="299.3" x2="1290.4" y2="299.3"/><line x1="1274.4" y1="355.2" x2="1290.4" y2="355.2"/><line x1="1313.5" y1="311.9" x2="1313.5" y2="385.5"/><line x1="1305.5" y1="311.9" x2="1321.5" y2="311.9"/><line x1="1305.5" y1="385.5" x2="1321.5" y2="385.5"/><line x1="1344.7" y1="353.8" x2="1344.7" y2="396.2"/><line x1="1336.7" y1="353.8" x2="1352.7" y2="353.8"/><line x1="1336.7" y1="396.2" x2="1352.7" y2="396.2"/><line x1="1375.8" y1="368" x2="1375.8" y2="419.5"/><line x1="1367.8" y1="368" x2="1383.8" y2="368"/><line x1="1367.8" y1="419.5" x2="1383.8" y2="419.5"/><line x1="1407.0" y1="384.2" x2="1407.0" y2="443.7"/><line x1="1399.0" y1="384.2" x2="1415.0" y2="384.2"/><line x1="1399.0" y1="443.7" x2="1415.0" y2="443.7"/><line x1="1438.1" y1="388.6" x2="1438.1" y2="465.1"/><line x1="1430.1" y1="388.6" x2="1446.1" y2="388.6"/><line x1="1430.1" y1="465.1" x2="1446.1" y2="465.1"/><line x1="1469.2" y1="420.1" x2="1469.2" y2="466"/><line x1="1461.2" y1="420.1" x2="1477.2" y2="420.1"/><line x1="1461.2" y1="466" x2="1477.2" y2="466"/><line x1="1500.4" y1="433.6" x2="1500.4" y2="485.8"/><line x1="1492.4" y1="433.6" x2="1508.4" y2="433.6"/><line x1="1492.4" y1="485.8" x2="1508.4" y2="485.8"/><line x1="1531.5" y1="428.9" x2="1531.5" y2="508.4"/><line x1="1523.5" y1="428.9" x2="1539.5" y2="428.9"/><line x1="1523.5" y1="508.4" x2="1539.5" y2="508.4"/><line x1="1562.7" y1="460.9" x2="1562.7" y2="499.2"/><line x1="1554.7" y1="460.9" x2="1570.7" y2="460.9"/><line x1="1554.7" y1="499.2" x2="1570.7" y2="499.2"/><line x1="1593.8" y1="474" x2="1593.8" y2="513.1"/><line x1="1585.8" y1="474" x2="1601.8" y2="474"/><line x1="1585.8" y1="513.1" x2="1601.8" y2="513.1"/><line x1="1624.9" y1="489.3" x2="1624.9" y2="536.8"/><line x1="1616.9" y1="489.3" x2="1632.9" y2="489.3"/><line x1="1616.9" y1="536.8" x2="1632.9" y2="536.8"/><line x1="1656.1" y1="508" x2="1656.1" y2="540.2"/><line x1="1648.1" y1="508" x2="1664.1" y2="508"/><line x1="1648.1" y1="540.2" x2="1664.1" y2="540.2"/><line x1="1687.2" y1="526.6" x2="1687.2" y2="552.1"/><line x1="1679.2" y1="526.6" x2="1695.2" y2="526.6"/><line x1="1679.2" y1="552.1" x2="1695.2" y2="552.1"/><line x1="1718.4" y1="547" x2="1718.4" y2="579.3"/><line x1="1710.4" y1="547" x2="1726.4" y2="547"/><line x1="1710.4" y1="579.3" x2="1726.4" y2="579.3"/><line x1="1749.5" y1="570.8" x2="1749.5" y2="609.9"/><line x1="1741.5" y1="570.8" x2="1757.5" y2="570.8"/><line x1="1741.5" y1="609.9" x2="1757.5" y2="609.9"/><line x1="1780.6" y1="618.4" x2="1780.6" y2="643.9"/><line x1="1772.6" y1="618.4" x2="1788.6" y2="618.4"/><line x1="1772.6" y1="643.9" x2="1788.6" y2="643.9"/><line x1="1811.8" y1="623.5" x2="1811.8" y2="671.7"/><line x1="1803.8" y1="623.5" x2="1819.8" y2="623.5"/><line x1="1803.8" y1="671.7" x2="1819.8" y2="671.7"/>
</g>
<g stroke="rgb(0,170,232)" stroke-width="5.6" fill="none">
<circle cx="1126.7" cy="208.6" r="10.8"/><circle cx="1157.8" cy="228.6" r="10.8"/><circle cx="1189.0" cy="241.8" r="10.8"/><circle cx="1220.1" cy="261" r="10.8"/><circle cx="1251.3" cy="299.3" r="10.8"/><circle cx="1282.4" cy="327.2" r="10.8"/><circle cx="1313.5" cy="347.8" r="10.8"/><circle cx="1344.7" cy="374.8" r="10.8"/><circle cx="1375.8" cy="393" r="10.8"/><circle cx="1407.0" cy="413.6" r="10.8"/><circle cx="1438.1" cy="426.9" r="10.8"/><circle cx="1469.2" cy="441.6" r="10.8"/><circle cx="1500.4" cy="459.3" r="10.8"/><circle cx="1531.5" cy="469.6" r="10.8"/><circle cx="1562.7" cy="479.5" r="10.8"/><circle cx="1593.8" cy="492.7" r="10.8"/><circle cx="1624.9" cy="512" r="10.8"/><circle cx="1656.1" cy="523.2" r="10.8"/><circle cx="1687.2" cy="539.2" r="10.8"/><circle cx="1718.4" cy="562.3" r="10.8"/><circle cx="1749.5" cy="589.5" r="10.8"/><circle cx="1780.6" cy="630.3" r="10.8"/><circle cx="1811.8" cy="647.3" r="10.8"/>
</g>
<line x1="1126.7" y1="217.0" x2="1811.8" y2="632.0" stroke="rgb(255,56,56)" stroke-width="6.3" stroke-linecap="round"/>
<g stroke="#000" stroke-width="3.8" fill="none" stroke-linejoin="round">
<rect x="1085.9" y="122.0" width="767.1" height="616.5"/>
</g>
<g stroke="#000" stroke-width="3.6">
<line x1="1126.7" y1="738.5" x2="1126.7" y2="727.5"/>
<line x1="1490.0" y1="738.5" x2="1490.0" y2="727.5"/>
<line x1="1853.3" y1="738.5" x2="1853.3" y2="727.5"/>
<line x1="1308.3" y1="738.5" x2="1308.3" y2="732.5"/>
<line x1="1671.7" y1="738.5" x2="1671.7" y2="732.5"/>
<line x1="1085.9" y1="738.5" x2="1096.9" y2="738.5"/>
<line x1="1085.9" y1="430.2" x2="1096.9" y2="430.2"/>
<line x1="1085.9" y1="122.0" x2="1096.9" y2="122.0"/>
<line x1="1085.9" y1="584.4" x2="1091.9" y2="584.4"/>
<line x1="1085.9" y1="276.1" x2="1091.9" y2="276.1"/>
</g>
<circle cx="1504.6" cy="204" r="11" fill="none" stroke="rgb(0,170,232)" stroke-width="5.8"/>
<line x1="1471.5" y1="252.3" x2="1536.5" y2="252.3" stroke="rgb(255,56,56)" stroke-width="6.5" stroke-linecap="round"/>
<text transform="translate(1544.69,213.46) scale(1.0057,1)" font-size="37.77">Absorbance</text><text transform="translate(1545.73,260.8) scale(0.9749,1)" font-size="39.59">Linear Fit</text><text transform="translate(1144.96,559.16) scale(0.9996,1)" font-size="37.92">y=-0.0204x+1.6918</text><text transform="translate(1143.73,621.47) scale(0.9732,1)" font-size="38.13">R<tspan dy="-0.365em">2</tspan><tspan dy="0.365em">=0.991</tspan></text>
</svg>
</body></html>
